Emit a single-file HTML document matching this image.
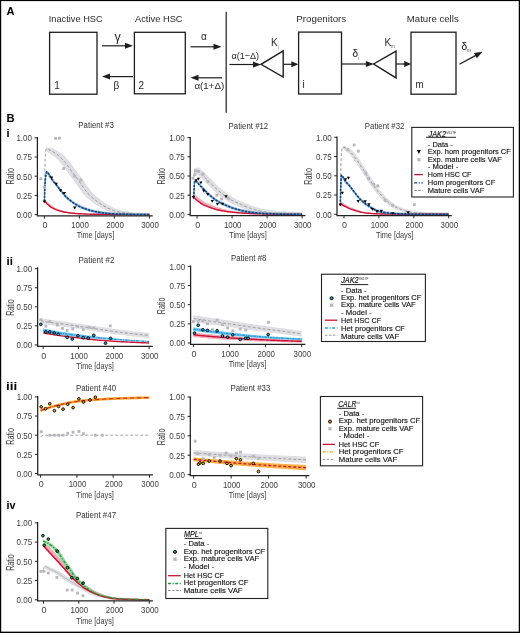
<!DOCTYPE html>
<html><head><meta charset="utf-8"><style>
html,body{margin:0;padding:0;background:#fff;}
body{width:520px;height:633px;overflow:hidden;}
svg{display:block;font-family:"Liberation Sans", sans-serif;will-change:transform;}
</style></head><body>
<svg width="520" height="633" viewBox="0 0 520 633">
<rect width="520" height="633" fill="#fff"/>
<text x="6.40" y="14.70" font-size="11.2" fill="#000" font-weight="bold">A</text>
<text x="48.80" y="22.00" font-size="9.5" fill="#2a2a2a" textLength="53.80" lengthAdjust="spacingAndGlyphs">Inactive HSC</text>
<text x="135.00" y="21.90" font-size="9.5" fill="#2a2a2a" textLength="47.60" lengthAdjust="spacingAndGlyphs">Active HSC</text>
<text x="296.30" y="21.70" font-size="9.5" fill="#2a2a2a" textLength="49.90" lengthAdjust="spacingAndGlyphs">Progenitors</text>
<text x="406.80" y="21.70" font-size="9.5" fill="#2a2a2a" textLength="51.90" lengthAdjust="spacingAndGlyphs">Mature cells</text>
<rect x="49.60" y="32.30" width="47.40" height="61.90" fill="none" stroke="#1e1e1e" stroke-width="1.3"/>
<rect x="134.40" y="32.30" width="50.90" height="61.50" fill="none" stroke="#1e1e1e" stroke-width="1.3"/>
<rect x="298.60" y="32.10" width="42.90" height="61.90" fill="none" stroke="#1e1e1e" stroke-width="1.3"/>
<rect x="411.00" y="32.20" width="45.00" height="62.00" fill="none" stroke="#1e1e1e" stroke-width="1.3"/>
<text x="54.20" y="89.40" font-size="10" fill="#2a2a2a">1</text>
<text x="138.60" y="89.40" font-size="10" fill="#2a2a2a">2</text>
<text x="302.60" y="88.40" font-size="10" fill="#2a2a2a">i</text>
<text x="415.40" y="88.00" font-size="10" fill="#2a2a2a" textLength="8.20" lengthAdjust="spacingAndGlyphs">m</text>
<path d="M102.00,45.80L126.00,45.80" stroke="#1e1e1e" stroke-width="1.2"/>
<path d="M133.00,45.80L125.00,48.80L125.00,42.80Z" fill="#1e1e1e"/>
<path d="M133.00,76.60L109.00,76.60" stroke="#1e1e1e" stroke-width="1.2"/>
<path d="M102.00,76.60L110.00,73.60L110.00,79.60Z" fill="#1e1e1e"/>
<path d="M190.50,46.80L214.50,46.80" stroke="#1e1e1e" stroke-width="1.2"/>
<path d="M221.50,46.80L213.50,49.80L213.50,43.80Z" fill="#1e1e1e"/>
<path d="M222.00,77.80L197.50,77.80" stroke="#1e1e1e" stroke-width="1.2"/>
<path d="M190.50,77.80L198.50,74.80L198.50,80.80Z" fill="#1e1e1e"/>
<path d="M229.40,64.50L254.00,64.50" stroke="#1e1e1e" stroke-width="1.2"/>
<path d="M261.00,64.50L253.00,67.50L253.00,61.50Z" fill="#1e1e1e"/>
<path d="M283.20,64.30L292.40,64.30" stroke="#1e1e1e" stroke-width="1.2"/>
<path d="M298.40,64.30L291.40,67.30L291.40,61.30Z" fill="#1e1e1e"/>
<path d="M341.50,64.00L366.80,64.00" stroke="#1e1e1e" stroke-width="1.2"/>
<path d="M373.80,64.00L365.80,67.00L365.80,61.00Z" fill="#1e1e1e"/>
<path d="M396.00,64.00L405.20,64.00" stroke="#1e1e1e" stroke-width="1.2"/>
<path d="M411.20,64.00L404.20,67.00L404.20,61.00Z" fill="#1e1e1e"/>
<path d="M459.40,64.20L476.33,55.11" stroke="#1e1e1e" stroke-width="1.2"/>
<path d="M482.50,51.80L476.87,58.23L474.03,52.94Z" fill="#1e1e1e"/>
<path d="M226.2,11.8V112.8" stroke="#1e1e1e" stroke-width="1.2"/>
<path d="M283.2,50.8L261.0,64.3L283.2,77.0Z" fill="none" stroke="#1e1e1e" stroke-width="1.4" stroke-linejoin="miter"/>
<path d="M396.0,51.2L373.6,64.0L396.0,77.9Z" fill="none" stroke="#1e1e1e" stroke-width="1.4" stroke-linejoin="miter"/>
<text x="114.60" y="40.80" font-size="12.5" fill="#2a2a2a">γ</text>
<text x="113.40" y="89.00" font-size="10" fill="#2a2a2a">β</text>
<text x="201.00" y="40.40" font-size="10" fill="#2a2a2a">α</text>
<text x="194.40" y="89.00" font-size="9.5" fill="#2a2a2a" textLength="29.80" lengthAdjust="spacingAndGlyphs">α(1+Δ)</text>
<text x="231.60" y="58.80" font-size="9.5" fill="#2a2a2a" textLength="27.50" lengthAdjust="spacingAndGlyphs">α(1−Δ)</text>
<text x="271.1" y="46.0" font-size="10" fill="#2a2a2a">K<tspan font-size="4.6" dy="3.4" fill="#777">i</tspan></text>
<text x="384.4" y="46.2" font-size="10" fill="#2a2a2a">K<tspan font-size="4.6" dy="2.2" fill="#555">m</tspan></text>
<text x="352.4" y="57.2" font-size="10" fill="#222" stroke="#222" stroke-width="0.1">δ<tspan font-size="4.6" dy="2.6" stroke-width="0" fill="#777">i</tspan></text>
<text x="461.4" y="49.8" font-size="10" fill="#222" stroke="#222" stroke-width="0.1">δ<tspan font-size="4.6" dy="2.0" stroke-width="0" fill="#444">m</tspan></text>
<text x="6.60" y="122.10" font-size="11.2" fill="#000" font-weight="bold">B</text>
<text x="6.40" y="136.60" font-size="11" fill="#000" font-weight="bold">i</text>
<text x="6.60" y="264.60" font-size="11" fill="#000" font-weight="bold" textLength="6.40" lengthAdjust="spacingAndGlyphs">ii</text>
<text x="6.00" y="389.60" font-size="11" fill="#000" font-weight="bold" textLength="11.20" lengthAdjust="spacingAndGlyphs">iii</text>
<text x="6.60" y="508.80" font-size="11" fill="#000" font-weight="bold" textLength="9.00" lengthAdjust="spacingAndGlyphs">iv</text>
<path d="M46.3,147.5L47.2,147.5L48.0,147.5L48.9,147.5L49.8,147.5L50.6,147.6L51.5,147.9L52.3,148.2L53.2,148.6L54.1,149.0L54.9,149.4L55.8,149.8L56.6,150.3L57.5,150.8L58.4,151.3L59.2,151.9L60.1,152.5L60.9,153.1L61.8,153.7L62.6,154.4L63.5,155.2L64.4,156.0L65.2,156.8L66.1,157.7L66.9,158.7L67.8,159.6L68.7,160.6L69.5,161.6L70.4,162.7L71.2,163.8L72.1,165.0L73.0,166.2L73.8,167.5L74.7,168.7L75.5,169.9L76.4,171.1L77.2,172.2L78.1,173.4L79.0,174.5L79.8,175.6L80.7,176.7L81.5,177.8L82.4,179.0L83.3,180.1L84.1,181.3L85.0,182.6L85.8,183.9L86.7,185.2L87.6,186.5L88.4,187.7L89.3,188.8L90.1,189.9L91.0,191.0L91.8,192.0L92.7,192.9L93.6,193.8L94.4,194.7L95.3,195.4L96.1,196.2L97.0,196.9L97.9,197.6L98.7,198.3L99.6,199.0L100.4,199.7L101.3,200.4L102.2,201.0L103.0,201.6L103.9,202.2L104.7,202.8L105.6,203.4L106.5,203.9L107.3,204.4L108.2,204.9L109.0,205.4L109.9,205.9L110.7,206.4L111.6,206.8L112.5,207.3L113.3,207.7L114.2,208.1L115.0,208.4L115.9,208.8L116.8,209.1L117.6,209.4L118.5,209.6L119.3,209.9L120.2,210.1L121.1,210.3L121.9,210.5L122.8,210.7L123.6,210.8L124.5,211.0L125.3,211.1L126.2,211.3L127.1,211.4L127.9,211.5L128.8,211.7L129.6,211.8L130.5,211.9L131.4,212.0L132.2,212.1L133.1,212.2L133.9,212.3L134.8,212.3L135.7,212.4L136.5,212.5L137.4,212.5L138.2,212.6L139.1,212.7L140.0,212.7L140.8,212.8L141.7,212.8L142.5,212.8L143.4,212.9L144.2,212.9L145.1,213.0L146.0,213.0L146.8,213.1L147.7,213.1L148.5,213.1L149.4,213.1L149.4,214.6L148.5,214.6L147.7,214.6L146.8,214.6L146.0,214.6L145.1,214.6L144.2,214.6L143.4,214.6L142.5,214.6L141.7,214.6L140.8,214.6L140.0,214.6L139.1,214.6L138.2,214.6L137.4,214.6L136.5,214.6L135.7,214.6L134.8,214.6L133.9,214.6L133.1,214.6L132.2,214.6L131.4,214.6L130.5,214.6L129.6,214.6L128.8,214.6L127.9,214.6L127.1,214.6L126.2,214.6L125.3,214.6L124.5,214.6L123.6,214.5L122.8,214.4L121.9,214.3L121.1,214.2L120.2,214.0L119.3,213.9L118.5,213.8L117.6,213.7L116.8,213.5L115.9,213.3L115.0,213.2L114.2,213.0L113.3,212.8L112.5,212.6L111.6,212.4L110.7,212.2L109.9,211.9L109.0,211.7L108.2,211.4L107.3,211.0L106.5,210.7L105.6,210.3L104.7,209.9L103.9,209.5L103.0,209.0L102.2,208.5L101.3,208.0L100.4,207.5L99.6,207.0L98.7,206.5L97.9,206.0L97.0,205.5L96.1,204.9L95.3,204.3L94.4,203.7L93.6,203.1L92.7,202.4L91.8,201.7L91.0,201.0L90.1,200.3L89.3,199.6L88.4,198.9L87.6,198.2L86.7,197.4L85.8,196.6L85.0,195.7L84.1,194.8L83.3,193.8L82.4,192.8L81.5,191.7L80.7,190.6L79.8,189.4L79.0,188.1L78.1,186.8L77.2,185.5L76.4,184.3L75.5,183.0L74.7,181.8L73.8,180.7L73.0,179.6L72.1,178.4L71.2,177.3L70.4,176.2L69.5,175.1L68.7,174.0L67.8,172.8L66.9,171.6L66.1,170.4L65.2,169.1L64.4,167.9L63.5,166.7L62.6,165.6L61.8,164.5L60.9,163.5L60.1,162.5L59.2,161.5L58.4,160.5L57.5,159.6L56.6,158.7L55.8,157.9L54.9,157.1L54.1,156.4L53.2,155.8L52.3,155.1L51.5,154.5L50.6,154.0L49.8,153.4L48.9,152.9L48.0,152.4L47.2,152.0L46.3,151.6Z" fill="#dfdfe3" stroke="none"/>
<path d="M44.4,198.5L45.6,199.8L46.7,201.1L47.9,202.2L49.0,203.3L50.0,204.3L51.1,205.1L52.4,206.0L53.6,206.8L54.9,207.5L56.0,208.0L57.1,208.5L58.1,208.9L59.2,209.3L60.4,209.7L61.7,210.1L62.9,210.5L64.2,210.9L65.4,211.2L66.5,211.5L67.5,211.7L68.6,211.9L69.6,212.1L70.7,212.3L71.8,212.5L72.9,212.7L74.0,212.8L75.0,213.0L76.1,213.2L77.2,213.3L78.3,213.4L79.4,213.4L80.5,213.5L81.6,213.6L82.7,213.6L83.8,213.7L84.9,213.7L86.0,213.7L87.1,213.8L88.2,213.8L89.2,213.8L90.3,213.9L91.4,213.9L92.5,213.9L93.6,213.9L94.7,214.0L95.8,214.0L96.9,214.0L98.0,214.0L99.0,214.0L100.1,214.0L101.2,214.0L102.2,214.1L103.3,214.1L104.4,214.1L105.4,214.1L106.5,214.1L107.6,214.1L108.6,214.1L109.7,214.1L110.7,214.1L111.8,214.2L112.9,214.2L113.9,214.2L115.0,214.2L116.1,214.2L117.1,214.2L118.2,214.2L119.3,214.2L120.3,214.2L121.4,214.2L122.5,214.2L123.6,214.2L124.6,214.2L125.7,214.2L126.8,214.2L127.9,214.2L128.9,214.2L130.0,214.3L131.1,214.3L132.2,214.3L133.2,214.3L134.3,214.3L135.4,214.3L136.5,214.3L137.6,214.3L138.6,214.3L139.7,214.3L140.8,214.3L141.9,214.3L142.9,214.3L144.0,214.3L145.1,214.3L146.2,214.3L147.2,214.3L148.3,214.3L149.4,214.3L149.4,214.6L148.3,214.6L147.2,214.6L146.2,214.6L145.1,214.6L144.0,214.6L142.9,214.6L141.9,214.6L140.8,214.6L139.7,214.6L138.6,214.6L137.6,214.6L136.5,214.6L135.4,214.6L134.3,214.6L133.2,214.6L132.2,214.6L131.1,214.6L130.0,214.6L128.9,214.6L127.9,214.6L126.8,214.6L125.7,214.6L124.6,214.6L123.6,214.6L122.5,214.6L121.4,214.6L120.3,214.6L119.3,214.6L118.2,214.6L117.1,214.6L116.1,214.6L115.0,214.6L113.9,214.6L112.9,214.6L111.8,214.6L110.7,214.6L109.7,214.6L108.6,214.6L107.6,214.6L106.5,214.6L105.4,214.6L104.4,214.6L103.3,214.6L102.2,214.6L101.2,214.6L100.1,214.6L99.0,214.6L98.0,214.6L96.9,214.6L95.8,214.6L94.7,214.6L93.6,214.6L92.5,214.6L91.4,214.6L90.3,214.5L89.2,214.5L88.2,214.5L87.1,214.5L86.0,214.4L84.9,214.4L83.8,214.4L82.7,214.3L81.6,214.3L80.5,214.3L79.4,214.2L78.3,214.2L77.2,214.1L76.1,214.0L75.0,213.9L74.0,213.8L72.9,213.7L71.8,213.6L70.7,213.4L69.6,213.3L68.6,213.2L67.5,213.0L66.5,212.9L65.4,212.7L64.2,212.4L62.9,212.2L61.7,211.9L60.4,211.6L59.2,211.2L58.1,210.9L57.1,210.5L56.0,210.1L54.9,209.7L53.6,209.1L52.4,208.4L51.1,207.6L50.0,206.8L49.0,205.9L47.9,204.9L46.7,203.8L45.6,202.7L44.4,201.5Z" fill="#ee8fa2" fill-opacity="0.75" stroke="none"/>
<path d="M46.6,169.9L47.9,171.7L49.1,173.5L50.4,175.3L51.6,177.0L52.8,178.5L53.9,180.0L55.1,181.5L56.2,182.9L57.4,184.4L58.5,185.8L59.6,187.3L60.8,188.7L61.9,190.2L63.1,191.7L64.2,193.1L65.4,194.4L66.5,195.5L67.5,196.5L68.5,197.4L69.6,198.3L70.7,199.1L71.7,199.9L72.8,200.7L73.8,201.5L74.8,202.2L76.0,202.9L77.1,203.6L78.3,204.2L79.4,204.8L80.6,205.3L81.7,205.8L82.9,206.3L84.0,206.8L85.2,207.2L86.3,207.5L87.3,207.9L88.4,208.2L89.5,208.6L90.5,208.9L91.6,209.2L92.7,209.5L93.7,209.7L94.8,210.0L95.9,210.2L97.0,210.4L98.0,210.6L99.1,210.8L100.2,210.9L101.3,211.1L102.3,211.2L103.4,211.4L104.5,211.5L105.6,211.6L106.7,211.8L107.8,211.9L108.9,212.0L110.0,212.1L111.1,212.2L112.2,212.2L113.3,212.3L114.4,212.4L115.5,212.4L116.6,212.5L117.6,212.5L118.7,212.6L119.8,212.6L120.9,212.6L121.9,212.7L123.0,212.7L124.1,212.7L125.2,212.8L126.2,212.8L127.3,212.8L128.4,212.8L129.5,212.8L130.5,212.9L131.6,212.9L132.6,212.9L133.7,212.9L134.7,212.9L135.8,213.0L136.8,213.0L137.8,213.0L138.9,213.0L140.0,213.0L141.0,213.0L142.1,213.0L143.1,213.0L144.2,213.0L145.2,213.1L146.2,213.1L147.3,213.1L148.3,213.1L149.4,213.1L149.4,214.6L148.3,214.6L147.3,214.6L146.2,214.6L145.2,214.6L144.2,214.6L143.1,214.6L142.1,214.6L141.0,214.6L140.0,214.6L138.9,214.6L137.8,214.6L136.8,214.6L135.8,214.6L134.7,214.6L133.7,214.6L132.6,214.6L131.6,214.6L130.5,214.6L129.5,214.6L128.4,214.6L127.3,214.6L126.2,214.6L125.2,214.6L124.1,214.6L123.0,214.6L121.9,214.6L120.9,214.6L119.8,214.6L118.7,214.6L117.6,214.6L116.6,214.6L115.5,214.6L114.4,214.6L113.3,214.6L112.2,214.6L111.1,214.6L110.0,214.6L108.9,214.6L107.8,214.6L106.7,214.6L105.6,214.6L104.5,214.6L103.4,214.6L102.3,214.5L101.3,214.4L100.2,214.2L99.1,214.0L98.0,213.8L97.0,213.5L95.9,213.3L94.8,213.1L93.7,212.9L92.7,212.6L91.6,212.3L90.5,212.0L89.5,211.7L88.4,211.4L87.3,211.1L86.3,210.7L85.2,210.4L84.0,209.9L82.9,209.5L81.7,209.0L80.6,208.5L79.4,208.0L78.3,207.4L77.1,206.8L76.0,206.2L74.8,205.5L73.8,204.8L72.8,204.1L71.7,203.3L70.7,202.5L69.6,201.6L68.5,200.8L67.5,199.9L66.5,198.9L65.4,197.9L64.2,196.6L63.1,195.2L61.9,193.7L60.8,192.3L59.6,190.9L58.5,189.4L57.4,188.0L56.2,186.6L55.1,185.1L53.9,183.7L52.8,182.3L51.6,180.8L50.4,179.1L49.1,177.4L47.9,175.6L46.6,173.8Z" fill="#8fb5dc" fill-opacity="0.85" stroke="none"/>
<path d="M44.6,191.6L44.9,167.8L45.3,154.7L45.8,150.3L46.3,148.7L47.6,148.9L48.9,149.5L50.1,150.2L51.4,150.9L52.6,151.5L53.7,152.2L54.9,152.9L56.1,153.7L57.2,154.6L58.4,155.5L59.6,156.5L60.7,157.6L61.9,158.8L63.1,160.1L64.2,161.4L65.4,162.8L66.6,164.2L67.7,165.8L68.9,167.4L70.1,169.1L71.2,170.8L72.4,172.4L73.6,173.9L74.7,175.4L75.9,176.9L77.1,178.4L78.2,180.0L79.4,181.6L80.6,183.2L81.7,185.0L82.9,186.8L84.0,188.5L85.2,190.0L86.4,191.5L87.6,192.9L88.7,194.2L89.9,195.4L91.1,196.6L92.3,197.6L93.6,198.6L94.8,199.6L95.9,200.5L97.0,201.4L98.2,202.3L99.3,203.1L100.4,203.8L101.8,204.7L103.1,205.5L104.5,206.3L105.7,207.0L106.8,207.6L108.0,208.3L109.2,208.8L110.4,209.4L111.6,209.9L112.9,210.4L114.1,210.8L115.2,211.0L116.2,211.3L117.3,211.6L118.4,211.8L119.5,212.0L120.6,212.2L121.7,212.4L122.7,212.6L123.8,212.8L124.9,212.9L126.0,213.0L127.0,213.2L128.1,213.3L129.1,213.4L130.2,213.5L131.2,213.6L132.2,213.7L133.3,213.8L134.3,213.8L135.4,213.9L136.5,214.0L137.6,214.0L138.6,214.1L139.7,214.1L140.8,214.2L141.9,214.2L142.9,214.3L144.0,214.3L145.1,214.4L146.2,214.4L147.2,214.4L148.3,214.4L149.4,214.4" fill="none" stroke="#929292" stroke-width="0.9" stroke-dasharray="3 2" stroke-linejoin="round"/>
<path d="M44.4,201.0L45.6,202.2L46.7,203.4L47.9,204.5L49.0,205.4L50.0,206.4L51.1,207.2L52.4,207.9L53.6,208.6L54.9,209.2L56.0,209.7L57.1,210.1L58.1,210.4L59.2,210.8L60.4,211.1L61.7,211.4L62.9,211.7L64.2,212.0L65.4,212.2L66.5,212.4L67.5,212.6L68.6,212.7L69.6,212.9L70.7,213.0L71.8,213.1L72.9,213.2L74.0,213.3L75.0,213.4L76.1,213.5L77.2,213.6L78.3,213.7L79.4,213.8L80.5,213.8L81.6,213.9L82.7,213.9L83.8,213.9L84.9,214.0L86.0,214.0L87.1,214.1L88.2,214.1L89.2,214.1L90.3,214.2L91.4,214.2L92.5,214.2L93.6,214.2L94.7,214.3L95.8,214.3L96.9,214.3L98.0,214.3L99.0,214.3L100.1,214.3L101.2,214.4L102.2,214.4L103.3,214.4L104.4,214.4L105.4,214.4L106.5,214.4L107.6,214.4L108.6,214.4L109.7,214.4L110.7,214.5L111.8,214.5L112.9,214.5L113.9,214.5L115.0,214.5L116.1,214.5L117.1,214.5L118.2,214.5L119.3,214.5L120.3,214.5L121.4,214.5L122.5,214.5L123.6,214.5L124.6,214.5L125.7,214.5L126.8,214.5L127.9,214.6L128.9,214.6L130.0,214.6L131.1,214.6L132.2,214.6L133.2,214.6L134.3,214.6L135.4,214.6L136.5,214.6L137.6,214.6L138.6,214.6L139.7,214.6L140.8,214.6L141.9,214.6L142.9,214.6L144.0,214.6L145.1,214.6L146.2,214.6L147.2,214.6L148.3,214.6L149.4,214.6" fill="none" stroke="#cf1032" stroke-width="1.4" stroke-linejoin="round"/>
<path d="M44.4,201.5L44.8,188.4L45.3,180.0L45.9,174.2L46.6,171.8L47.9,172.6L49.1,174.5L50.4,176.8L51.6,178.9L52.8,180.4L53.9,181.9L55.1,183.3L56.2,184.7L57.4,186.2L58.5,187.6L59.6,189.1L60.8,190.5L61.9,191.9L63.1,193.4L64.2,194.9L65.4,196.2L66.5,197.2L67.5,198.2L68.5,199.1L69.6,199.9L70.7,200.8L71.7,201.6L72.8,202.4L73.8,203.2L74.8,203.8L76.0,204.5L77.1,205.2L78.3,205.8L79.4,206.4L80.6,206.9L81.7,207.4L82.9,207.9L84.0,208.3L85.2,208.8L86.3,209.1L87.3,209.5L88.4,209.8L89.5,210.2L90.5,210.5L91.6,210.8L92.7,211.0L93.7,211.3L94.8,211.5L95.9,211.7L97.0,211.9L98.0,212.1L99.1,212.3L100.2,212.5L101.3,212.7L102.3,212.8L103.4,212.9L104.5,213.1L105.6,213.2L106.7,213.3L107.8,213.4L108.9,213.5L110.0,213.6L111.1,213.7L112.2,213.8L113.3,213.8L114.4,213.9L115.5,214.0L116.6,214.0L117.6,214.1L118.7,214.1L119.8,214.1L120.9,214.2L121.9,214.2L123.0,214.2L124.1,214.3L125.2,214.3L126.2,214.3L127.3,214.3L128.4,214.4L129.5,214.4L130.5,214.4L131.6,214.4L132.6,214.4L133.7,214.5L134.7,214.5L135.8,214.5L136.8,214.5L137.8,214.5L138.9,214.5L140.0,214.5L141.0,214.6L142.1,214.6L143.1,214.6L144.2,214.6L145.2,214.6L146.2,214.6L147.3,214.6L148.3,214.6L149.4,214.6" fill="none" stroke="#4f83bb" stroke-width="1.0" stroke-linejoin="round"/>
<path d="M44.4,201.5L44.8,188.4L45.3,180.0L45.9,174.2L46.6,171.8L47.9,172.6L49.1,174.5L50.4,176.8L51.6,178.9L52.8,180.4L53.9,181.9L55.1,183.3L56.2,184.7L57.4,186.2L58.5,187.6L59.6,189.1L60.8,190.5L61.9,191.9L63.1,193.4L64.2,194.9L65.4,196.2L66.5,197.2L67.5,198.2L68.5,199.1L69.6,199.9L70.7,200.8L71.7,201.6L72.8,202.4L73.8,203.2L74.8,203.8L76.0,204.5L77.1,205.2L78.3,205.8L79.4,206.4L80.6,206.9L81.7,207.4L82.9,207.9L84.0,208.3L85.2,208.8L86.3,209.1L87.3,209.5L88.4,209.8L89.5,210.2L90.5,210.5L91.6,210.8L92.7,211.0L93.7,211.3L94.8,211.5L95.9,211.7L97.0,211.9L98.0,212.1L99.1,212.3L100.2,212.5L101.3,212.7L102.3,212.8L103.4,212.9L104.5,213.1L105.6,213.2L106.7,213.3L107.8,213.4L108.9,213.5L110.0,213.6L111.1,213.7L112.2,213.8L113.3,213.8L114.4,213.9L115.5,214.0L116.6,214.0L117.6,214.1L118.7,214.1L119.8,214.1L120.9,214.2L121.9,214.2L123.0,214.2L124.1,214.3L125.2,214.3L126.2,214.3L127.3,214.3L128.4,214.4L129.5,214.4L130.5,214.4L131.6,214.4L132.6,214.4L133.7,214.5L134.7,214.5L135.8,214.5L136.8,214.5L137.8,214.5L138.9,214.5L140.0,214.5L141.0,214.6L142.1,214.6L143.1,214.6L144.2,214.6L145.2,214.6L146.2,214.6L147.3,214.6L148.3,214.6L149.4,214.6" fill="none" stroke="#0a4480" stroke-width="1.6" stroke-dasharray="2.2 1.3" stroke-linejoin="round"/>
<rect x="39.50" y="177.33" width="2.8" height="2.8" fill="#b6b6bc"/>
<rect x="43.00" y="185.78" width="2.8" height="2.8" fill="#b6b6bc"/>
<rect x="54.20" y="136.94" width="2.8" height="2.8" fill="#b6b6bc"/>
<rect x="58.09" y="136.71" width="2.8" height="2.8" fill="#b6b6bc"/>
<rect x="62.22" y="167.12" width="2.8" height="2.8" fill="#b6b6bc"/>
<rect x="73.10" y="174.80" width="2.8" height="2.8" fill="#b6b6bc"/>
<rect x="79.50" y="178.64" width="2.8" height="2.8" fill="#b6b6bc"/>
<path d="M42.75,200.53L46.05,200.53L44.40,203.33Z" fill="#000"/>
<path d="M49.96,176.56L53.26,176.56L51.61,179.37Z" fill="#000"/>
<path d="M54.55,182.78L57.84,182.78L56.20,185.59Z" fill="#000"/>
<path d="M58.85,189.31L62.15,189.31L60.50,192.12Z" fill="#000"/>
<path d="M62.66,192.00L65.97,192.00L64.31,194.81Z" fill="#000"/>
<path d="M73.06,206.59L76.36,206.59L74.71,209.40Z" fill="#000"/>
<path d="M37.40,137.00V215.80H152.70" fill="none" stroke="#222" stroke-width="1.25"/>
<path d="M34.60,214.60H37.4" stroke="#222" stroke-width="1"/>
<text x="32.00" y="217.90" font-size="9" fill="#3d3d3d" text-anchor="end" textLength="15.60" lengthAdjust="spacingAndGlyphs">0.00</text>
<path d="M34.60,195.40H37.4" stroke="#222" stroke-width="1"/>
<text x="32.00" y="198.70" font-size="9" fill="#3d3d3d" text-anchor="end" textLength="15.60" lengthAdjust="spacingAndGlyphs">0.25</text>
<path d="M34.60,176.20H37.4" stroke="#222" stroke-width="1"/>
<text x="32.00" y="179.50" font-size="9" fill="#3d3d3d" text-anchor="end" textLength="15.60" lengthAdjust="spacingAndGlyphs">0.50</text>
<path d="M34.60,157.00H37.4" stroke="#222" stroke-width="1"/>
<text x="32.00" y="160.30" font-size="9" fill="#3d3d3d" text-anchor="end" textLength="15.60" lengthAdjust="spacingAndGlyphs">0.75</text>
<path d="M34.60,137.80H37.4" stroke="#222" stroke-width="1"/>
<text x="32.00" y="141.10" font-size="9" fill="#3d3d3d" text-anchor="end" textLength="15.60" lengthAdjust="spacingAndGlyphs">1.00</text>
<path d="M44.40,215.80V218.60" stroke="#222" stroke-width="1"/>
<text x="45.00" y="228.20" font-size="9" fill="#3d3d3d" text-anchor="middle" textLength="5.00" lengthAdjust="spacingAndGlyphs">0</text>
<path d="M79.40,215.80V218.60" stroke="#222" stroke-width="1"/>
<text x="80.00" y="228.20" font-size="9" fill="#3d3d3d" text-anchor="middle" textLength="17.60" lengthAdjust="spacingAndGlyphs">1000</text>
<path d="M114.40,215.80V218.60" stroke="#222" stroke-width="1"/>
<text x="115.00" y="228.20" font-size="9" fill="#3d3d3d" text-anchor="middle" textLength="17.60" lengthAdjust="spacingAndGlyphs">2000</text>
<path d="M149.40,215.80V218.60" stroke="#222" stroke-width="1"/>
<text x="150.00" y="228.20" font-size="9" fill="#3d3d3d" text-anchor="middle" textLength="17.60" lengthAdjust="spacingAndGlyphs">3000</text>
<text x="95.45" y="238.40" font-size="9.8" fill="#3d3d3d" text-anchor="middle" textLength="37.50" lengthAdjust="spacingAndGlyphs">Time [days]</text>
<text x="0" y="0" font-size="10.4" fill="#3d3d3d" text-anchor="middle" textLength="16.5" lengthAdjust="spacingAndGlyphs" transform="translate(14.10,176.20) rotate(-90)">Ratio</text>
<text x="96.10" y="128.10" font-size="8.2" fill="#333" text-anchor="middle" textLength="35.50" lengthAdjust="spacingAndGlyphs">Patient #3</text>
<path d="M194.7,168.3L195.5,168.3L196.4,168.3L197.3,167.8L198.2,167.3L199.1,167.8L200.0,168.6L200.9,169.5L201.8,170.3L202.7,171.1L203.6,171.9L204.5,172.7L205.4,173.5L206.3,174.4L207.2,175.2L208.1,176.1L209.0,177.0L209.9,178.0L210.8,178.9L211.7,179.8L212.6,180.7L213.5,181.6L214.3,182.5L215.2,183.4L216.1,184.3L217.0,185.2L217.9,186.0L218.8,186.9L219.7,187.7L220.6,188.5L221.5,189.2L222.4,190.0L223.3,190.7L224.2,191.3L225.1,192.0L226.0,192.7L226.9,193.3L227.8,194.0L228.7,194.6L229.6,195.2L230.5,195.8L231.4,196.4L232.3,197.0L233.2,197.5L234.0,198.1L234.9,198.5L235.8,199.0L236.7,199.4L237.6,199.8L238.5,200.1L239.4,200.5L240.3,200.9L241.2,201.2L242.1,201.6L243.0,202.1L243.9,202.5L244.8,202.9L245.7,203.3L246.6,203.8L247.5,204.1L248.4,204.5L249.3,204.8L250.2,205.1L251.1,205.5L252.0,205.8L252.9,206.1L253.7,206.4L254.6,206.7L255.5,206.9L256.4,207.2L257.3,207.5L258.2,207.7L259.1,207.9L260.0,208.2L260.9,208.4L261.8,208.6L262.7,208.7L263.6,208.9L264.5,209.1L265.4,209.2L266.3,209.4L267.2,209.6L268.1,209.7L269.0,209.8L269.9,210.0L270.8,210.1L271.7,210.2L272.6,210.3L273.4,210.4L274.3,210.5L275.2,210.6L276.1,210.7L277.0,210.8L277.9,210.9L278.8,210.9L279.7,211.0L280.6,211.0L281.5,211.1L282.4,211.2L283.3,211.2L284.2,211.3L285.1,211.3L286.0,211.4L286.9,211.4L287.8,211.4L288.7,211.5L289.6,211.5L290.5,211.6L291.4,211.6L292.3,211.6L293.1,211.7L294.0,211.7L294.9,211.8L295.8,211.8L296.7,211.8L297.6,211.9L298.5,211.9L299.4,211.9L300.3,212.0L301.2,212.0L302.1,212.0L302.1,214.4L301.2,214.4L300.3,214.4L299.4,214.4L298.5,214.4L297.6,214.4L296.7,214.4L295.8,214.4L294.9,214.4L294.0,214.4L293.1,214.4L292.3,214.4L291.4,214.4L290.5,214.4L289.6,214.4L288.7,214.4L287.8,214.4L286.9,214.4L286.0,214.4L285.1,214.4L284.2,214.4L283.3,214.4L282.4,214.4L281.5,214.4L280.6,214.4L279.7,214.4L278.8,214.4L277.9,214.4L277.0,214.4L276.1,214.4L275.2,214.4L274.3,214.4L273.4,214.4L272.6,214.4L271.7,214.4L270.8,214.4L269.9,214.4L269.0,214.4L268.1,214.4L267.2,214.4L266.3,214.4L265.4,214.4L264.5,214.4L263.6,214.3L262.7,214.1L261.8,214.0L260.9,213.8L260.0,213.6L259.1,213.5L258.2,213.3L257.3,213.1L256.4,212.9L255.5,212.7L254.6,212.5L253.7,212.2L252.9,212.0L252.0,211.7L251.1,211.5L250.2,211.2L249.3,210.9L248.4,210.6L247.5,210.3L246.6,210.0L245.7,209.6L244.8,209.3L243.9,209.0L243.0,208.6L242.1,208.2L241.2,207.8L240.3,207.4L239.4,207.0L238.5,206.5L237.6,206.1L236.7,205.7L235.8,205.4L234.9,205.0L234.0,204.6L233.2,204.3L232.3,203.9L231.4,203.5L230.5,203.0L229.6,202.5L228.7,202.0L227.8,201.4L226.9,200.8L226.0,200.2L225.1,199.6L224.2,199.0L223.3,198.4L222.4,197.7L221.5,197.1L220.6,196.4L219.7,195.7L218.8,195.1L217.9,194.3L217.0,193.6L216.1,192.9L215.2,192.1L214.3,191.2L213.5,190.4L212.6,189.5L211.7,188.6L210.8,187.8L209.9,186.9L209.0,186.0L208.1,185.0L207.2,184.1L206.3,183.2L205.4,182.3L204.5,181.4L203.6,180.4L202.7,179.6L201.8,178.7L200.9,177.9L200.0,177.0L199.1,176.3L198.2,175.5L197.3,174.7L196.4,173.9L195.5,173.1L194.7,172.2Z" fill="#dfdfe3" stroke="none"/>
<path d="M193.7,193.2L194.9,194.3L196.1,195.4L197.2,196.5L198.4,197.4L199.6,198.4L200.7,199.3L201.8,200.1L203.0,200.9L204.1,201.6L205.3,202.3L206.6,202.9L207.8,203.4L209.1,203.9L210.3,204.5L211.4,205.0L212.6,205.5L213.8,206.0L215.0,206.4L216.2,206.8L217.4,207.2L218.6,207.5L219.6,207.8L220.7,208.1L221.8,208.4L222.8,208.7L223.9,209.0L224.9,209.2L226.0,209.5L227.1,209.7L228.1,209.9L229.3,210.2L230.4,210.4L231.6,210.6L232.7,210.8L233.8,211.0L235.0,211.2L236.1,211.4L237.2,211.6L238.4,211.8L239.5,211.9L240.7,212.0L241.8,212.2L242.9,212.3L244.0,212.4L245.2,212.6L246.3,212.7L247.4,212.8L248.6,212.9L249.7,213.0L250.8,213.1L252.0,213.1L253.1,213.2L254.2,213.2L255.2,213.3L256.2,213.3L257.3,213.3L258.4,213.4L259.4,213.4L260.4,213.4L261.5,213.5L262.6,213.5L263.6,213.5L264.6,213.5L265.7,213.6L266.8,213.6L267.8,213.6L268.9,213.6L269.9,213.6L270.9,213.7L272.0,213.7L273.1,213.7L274.1,213.7L275.2,213.7L276.3,213.7L277.3,213.7L278.4,213.8L279.5,213.8L280.6,213.8L281.6,213.8L282.7,213.8L283.8,213.8L284.9,213.8L285.9,213.8L287.0,213.9L288.1,213.9L289.2,213.9L290.3,213.9L291.3,213.9L292.4,213.9L293.5,213.9L294.6,213.9L295.6,213.9L296.7,213.9L297.8,213.9L298.9,213.9L299.9,213.9L301.0,213.9L302.1,213.9L302.1,214.4L301.0,214.4L299.9,214.4L298.9,214.4L297.8,214.4L296.7,214.4L295.6,214.4L294.6,214.4L293.5,214.4L292.4,214.4L291.3,214.4L290.3,214.4L289.2,214.4L288.1,214.4L287.0,214.4L285.9,214.4L284.9,214.4L283.8,214.4L282.7,214.4L281.6,214.4L280.6,214.4L279.5,214.4L278.4,214.4L277.3,214.4L276.3,214.4L275.2,214.4L274.1,214.4L273.1,214.4L272.0,214.4L270.9,214.4L269.9,214.4L268.9,214.4L267.8,214.4L266.8,214.4L265.7,214.4L264.6,214.4L263.6,214.4L262.6,214.4L261.5,214.3L260.4,214.3L259.4,214.3L258.4,214.3L257.3,214.3L256.2,214.3L255.2,214.3L254.2,214.3L253.1,214.2L252.0,214.2L250.8,214.2L249.7,214.1L248.6,214.1L247.4,214.0L246.3,214.0L245.2,213.9L244.0,213.8L242.9,213.7L241.8,213.6L240.7,213.6L239.5,213.5L238.4,213.4L237.2,213.3L236.1,213.2L235.0,213.1L233.8,213.0L232.7,212.9L231.6,212.7L230.4,212.6L229.3,212.5L228.1,212.3L227.1,212.2L226.0,212.0L224.9,211.9L223.9,211.7L222.8,211.5L221.8,211.3L220.7,211.1L219.6,210.9L218.6,210.6L217.4,210.4L216.2,210.1L215.0,209.8L213.8,209.4L212.6,209.0L211.4,208.6L210.3,208.2L209.1,207.7L207.8,207.3L206.6,206.8L205.3,206.4L204.1,205.8L203.0,205.2L201.8,204.5L200.7,203.7L199.6,202.9L198.4,202.0L197.2,201.1L196.1,200.2L194.9,199.2L193.7,198.1Z" fill="#ee8fa2" fill-opacity="0.75" stroke="none"/>
<path d="M194.6,179.5L194.8,179.0L195.0,178.7L196.1,179.2L197.3,180.4L198.4,181.8L199.6,183.2L200.8,184.4L201.9,185.6L203.1,186.8L204.3,188.0L205.5,189.3L206.7,190.5L207.9,191.7L209.1,192.9L210.3,193.9L211.4,194.9L212.6,195.9L213.8,196.8L215.0,197.7L216.2,198.6L217.4,199.4L218.6,200.1L219.8,200.8L221.0,201.4L222.2,202.0L223.3,202.5L224.5,203.1L225.7,203.6L226.9,204.1L228.1,204.6L229.3,205.1L230.5,205.6L231.7,206.1L232.9,206.5L234.0,206.9L235.1,207.2L236.2,207.6L237.3,207.9L238.4,208.2L239.5,208.4L240.6,208.7L241.8,209.0L242.9,209.3L244.0,209.5L245.1,209.7L246.2,210.0L247.4,210.2L248.5,210.4L249.6,210.5L250.7,210.7L251.8,210.8L252.8,211.0L253.9,211.1L255.0,211.2L256.1,211.3L257.1,211.4L258.2,211.5L259.3,211.6L260.4,211.7L261.4,211.8L262.5,211.9L263.6,211.9L264.7,212.0L265.8,212.0L266.9,212.1L268.0,212.1L269.1,212.2L270.2,212.2L271.3,212.3L272.4,212.3L273.4,212.4L274.5,212.4L275.6,212.4L276.7,212.4L277.8,212.5L278.9,212.5L280.0,212.5L281.1,212.6L282.1,212.6L283.2,212.6L284.2,212.6L285.3,212.6L286.4,212.7L287.4,212.7L288.4,212.7L289.5,212.7L290.6,212.7L291.6,212.8L292.6,212.8L293.7,212.8L294.8,212.8L295.8,212.8L296.9,212.8L297.9,212.8L298.9,212.8L300.0,212.9L301.1,212.9L302.1,212.9L302.1,214.4L301.1,214.4L300.0,214.4L298.9,214.4L297.9,214.4L296.9,214.4L295.8,214.4L294.8,214.4L293.7,214.4L292.6,214.4L291.6,214.4L290.6,214.4L289.5,214.4L288.4,214.4L287.4,214.4L286.4,214.4L285.3,214.4L284.2,214.4L283.2,214.4L282.1,214.4L281.1,214.4L280.0,214.4L278.9,214.4L277.8,214.4L276.7,214.4L275.6,214.4L274.5,214.4L273.4,214.4L272.4,214.4L271.3,214.4L270.2,214.4L269.1,214.4L268.0,214.4L266.9,214.4L265.8,214.4L264.7,214.4L263.6,214.4L262.5,214.4L261.4,214.4L260.4,214.3L259.3,214.3L258.2,214.3L257.1,214.2L256.1,214.1L255.0,214.1L253.9,214.0L252.8,213.9L251.8,213.8L250.7,213.7L249.6,213.7L248.5,213.5L247.4,213.4L246.2,213.2L245.1,212.9L244.0,212.7L242.9,212.4L241.8,212.2L240.6,211.9L239.5,211.6L238.4,211.3L237.3,211.0L236.2,210.7L235.1,210.4L234.0,210.1L232.9,209.7L231.7,209.3L230.5,208.8L229.3,208.3L228.1,207.8L226.9,207.3L225.7,206.8L224.5,206.3L223.3,205.8L222.2,205.3L221.0,204.7L219.8,204.1L218.6,203.5L217.4,202.7L216.2,201.9L215.0,201.1L213.8,200.2L212.6,199.3L211.4,198.3L210.3,197.4L209.1,196.3L207.9,195.2L206.7,194.0L205.5,192.8L204.3,191.6L203.1,190.4L201.9,189.2L200.8,188.0L199.6,186.8L198.4,185.5L197.3,184.1L196.1,182.9L195.0,182.5L194.8,182.8L194.6,183.2Z" fill="#8fb5dc" fill-opacity="0.85" stroke="none"/>
<path d="M193.7,177.5L194.2,173.1L194.7,170.6L195.1,169.8L195.5,169.5L196.9,170.0L198.2,171.3L199.6,172.5L200.8,173.5L201.9,174.6L203.1,175.7L204.3,176.8L205.5,177.9L206.7,179.2L207.9,180.4L209.1,181.6L210.3,182.8L211.4,184.0L212.6,185.2L213.8,186.4L215.0,187.5L216.2,188.7L217.4,189.8L218.6,190.8L219.8,191.8L221.0,192.8L222.2,193.7L223.3,194.6L224.5,195.5L225.7,196.3L226.9,197.2L228.1,198.0L229.3,198.7L230.5,199.5L231.7,200.2L232.9,200.9L234.0,201.4L235.1,201.9L236.2,202.4L237.3,202.8L238.4,203.3L239.5,203.7L240.6,204.2L241.7,204.8L242.8,205.3L243.9,205.8L245.0,206.3L246.1,206.7L247.2,207.1L248.3,207.5L249.3,207.9L250.4,208.3L251.5,208.6L252.6,209.0L253.6,209.3L254.7,209.6L255.8,209.9L256.9,210.2L257.9,210.5L259.0,210.7L260.1,210.9L261.2,211.2L262.3,211.4L263.3,211.6L264.4,211.7L265.5,211.9L266.6,212.1L267.6,212.3L268.7,212.4L269.8,212.6L270.9,212.7L271.9,212.8L273.0,212.9L274.1,213.0L275.2,213.1L276.3,213.2L277.4,213.3L278.5,213.3L279.6,213.4L280.7,213.5L281.8,213.5L282.9,213.6L283.9,213.7L285.0,213.7L286.1,213.8L287.2,213.8L288.3,213.9L289.4,213.9L290.5,214.0L291.6,214.0L292.6,214.1L293.7,214.1L294.8,214.1L295.8,214.2L296.9,214.2L297.9,214.3L298.9,214.3L300.0,214.3L301.1,214.4L302.1,214.4" fill="none" stroke="#929292" stroke-width="0.9" stroke-dasharray="3 2" stroke-linejoin="round"/>
<path d="M193.7,197.5L194.9,198.5L196.1,199.5L197.2,200.5L198.4,201.4L199.6,202.3L200.7,203.1L201.8,203.9L203.0,204.6L204.1,205.2L205.3,205.7L206.6,206.2L207.8,206.7L209.1,207.1L210.3,207.5L211.4,208.0L212.6,208.4L213.8,208.8L215.0,209.1L216.2,209.5L217.4,209.8L218.6,210.0L219.6,210.2L220.7,210.5L221.8,210.7L222.8,210.9L223.9,211.1L224.9,211.2L226.0,211.4L227.1,211.6L228.1,211.7L229.3,211.9L230.4,212.0L231.6,212.1L232.7,212.2L233.8,212.4L235.0,212.5L236.1,212.6L237.2,212.7L238.4,212.8L239.5,212.9L240.7,212.9L241.8,213.0L242.9,213.1L244.0,213.2L245.2,213.2L246.3,213.3L247.4,213.4L248.6,213.4L249.7,213.5L250.8,213.5L252.0,213.6L253.1,213.6L254.2,213.7L255.2,213.7L256.2,213.7L257.3,213.8L258.4,213.8L259.4,213.8L260.4,213.9L261.5,213.9L262.6,213.9L263.6,214.0L264.6,214.0L265.7,214.0L266.8,214.0L267.8,214.1L268.9,214.1L269.9,214.1L270.9,214.1L272.0,214.1L273.1,214.2L274.1,214.2L275.2,214.2L276.3,214.2L277.3,214.2L278.4,214.2L279.5,214.2L280.6,214.2L281.6,214.3L282.7,214.3L283.8,214.3L284.9,214.3L285.9,214.3L287.0,214.3L288.1,214.3L289.2,214.3L290.3,214.3L291.3,214.4L292.4,214.4L293.5,214.4L294.6,214.4L295.6,214.4L296.7,214.4L297.8,214.4L298.9,214.4L299.9,214.4L301.0,214.4L302.1,214.4" fill="none" stroke="#cf1032" stroke-width="1.4" stroke-linejoin="round"/>
<path d="M193.7,197.5L194.2,186.5L194.6,181.4L194.8,180.8L195.0,180.6L196.1,181.1L197.3,182.2L198.4,183.7L199.6,185.0L200.8,186.2L201.9,187.4L203.1,188.6L204.3,189.8L205.5,191.0L206.7,192.3L207.9,193.5L209.1,194.6L210.3,195.6L211.4,196.6L212.6,197.6L213.8,198.5L215.0,199.4L216.2,200.3L217.4,201.1L218.6,201.8L219.8,202.5L221.0,203.1L222.2,203.6L223.3,204.2L224.5,204.7L225.7,205.2L226.9,205.7L228.1,206.2L229.3,206.7L230.5,207.2L231.7,207.7L232.9,208.1L234.0,208.5L235.1,208.8L236.2,209.1L237.3,209.5L238.4,209.7L239.5,210.0L240.6,210.3L241.8,210.6L242.9,210.8L244.0,211.1L245.1,211.3L246.2,211.5L247.4,211.7L248.5,211.9L249.6,212.1L250.7,212.2L251.8,212.4L252.8,212.5L253.9,212.6L255.0,212.8L256.1,212.9L257.1,213.0L258.2,213.1L259.3,213.2L260.4,213.3L261.4,213.3L262.5,213.4L263.6,213.5L264.7,213.5L265.8,213.6L266.9,213.6L268.0,213.7L269.1,213.7L270.2,213.8L271.3,213.8L272.4,213.9L273.4,213.9L274.5,213.9L275.6,214.0L276.7,214.0L277.8,214.0L278.9,214.0L280.0,214.1L281.1,214.1L282.1,214.1L283.2,214.1L284.2,214.2L285.3,214.2L286.4,214.2L287.4,214.2L288.4,214.2L289.5,214.3L290.6,214.3L291.6,214.3L292.6,214.3L293.7,214.3L294.8,214.3L295.8,214.4L296.9,214.4L297.9,214.4L298.9,214.4L300.0,214.4L301.1,214.4L302.1,214.4" fill="none" stroke="#4f83bb" stroke-width="1.0" stroke-linejoin="round"/>
<path d="M193.7,197.5L194.2,186.5L194.6,181.4L194.8,180.8L195.0,180.6L196.1,181.1L197.3,182.2L198.4,183.7L199.6,185.0L200.8,186.2L201.9,187.4L203.1,188.6L204.3,189.8L205.5,191.0L206.7,192.3L207.9,193.5L209.1,194.6L210.3,195.6L211.4,196.6L212.6,197.6L213.8,198.5L215.0,199.4L216.2,200.3L217.4,201.1L218.6,201.8L219.8,202.5L221.0,203.1L222.2,203.6L223.3,204.2L224.5,204.7L225.7,205.2L226.9,205.7L228.1,206.2L229.3,206.7L230.5,207.2L231.7,207.7L232.9,208.1L234.0,208.5L235.1,208.8L236.2,209.1L237.3,209.5L238.4,209.7L239.5,210.0L240.6,210.3L241.8,210.6L242.9,210.8L244.0,211.1L245.1,211.3L246.2,211.5L247.4,211.7L248.5,211.9L249.6,212.1L250.7,212.2L251.8,212.4L252.8,212.5L253.9,212.6L255.0,212.8L256.1,212.9L257.1,213.0L258.2,213.1L259.3,213.2L260.4,213.3L261.4,213.3L262.5,213.4L263.6,213.5L264.7,213.5L265.8,213.6L266.9,213.6L268.0,213.7L269.1,213.7L270.2,213.8L271.3,213.8L272.4,213.9L273.4,213.9L274.5,213.9L275.6,214.0L276.7,214.0L277.8,214.0L278.9,214.0L280.0,214.1L281.1,214.1L282.1,214.1L283.2,214.1L284.2,214.2L285.3,214.2L286.4,214.2L287.4,214.2L288.4,214.2L289.5,214.3L290.6,214.3L291.6,214.3L292.6,214.3L293.7,214.3L294.8,214.3L295.8,214.4L296.9,214.4L297.9,214.4L298.9,214.4L300.0,214.4L301.1,214.4L302.1,214.4" fill="none" stroke="#0a4480" stroke-width="1.6" stroke-dasharray="2.2 1.3" stroke-linejoin="round"/>
<rect x="191.50" y="176.90" width="2.8" height="2.8" fill="#b6b6bc"/>
<rect x="194.30" y="169.22" width="2.8" height="2.8" fill="#b6b6bc"/>
<rect x="197.17" y="169.99" width="2.8" height="2.8" fill="#b6b6bc"/>
<rect x="201.72" y="172.68" width="2.8" height="2.8" fill="#b6b6bc"/>
<rect x="193.60" y="173.06" width="2.8" height="2.8" fill="#b6b6bc"/>
<rect x="206.30" y="179.98" width="2.8" height="2.8" fill="#b6b6bc"/>
<rect x="215.51" y="193.80" width="2.8" height="2.8" fill="#b6b6bc"/>
<rect x="220.20" y="197.64" width="2.8" height="2.8" fill="#b6b6bc"/>
<rect x="227.20" y="196.87" width="2.8" height="2.8" fill="#b6b6bc"/>
<path d="M191.77,196.10L195.07,196.10L193.42,198.91Z" fill="#000"/>
<path d="M194.47,179.21L197.77,179.21L196.12,182.01Z" fill="#000"/>
<path d="M196.74,177.67L200.04,177.67L198.39,180.47Z" fill="#000"/>
<path d="M199.23,181.51L202.53,181.51L200.88,184.31Z" fill="#000"/>
<path d="M202.10,189.57L205.40,189.57L203.75,192.38Z" fill="#000"/>
<path d="M206.05,193.03L209.35,193.03L207.70,195.83Z" fill="#000"/>
<path d="M210.64,199.94L213.94,199.94L212.29,202.75Z" fill="#000"/>
<path d="M215.75,203.01L219.05,203.01L217.40,205.82Z" fill="#000"/>
<path d="M220.89,202.63L224.19,202.63L222.54,205.43Z" fill="#000"/>
<path d="M224.36,195.33L227.66,195.33L226.01,198.14Z" fill="#000"/>
<path d="M190.20,137.00V215.60H305.40" fill="none" stroke="#222" stroke-width="1.25"/>
<path d="M187.40,214.40H190.2" stroke="#222" stroke-width="1"/>
<text x="184.80" y="217.70" font-size="9" fill="#3d3d3d" text-anchor="end" textLength="15.60" lengthAdjust="spacingAndGlyphs">0.00</text>
<path d="M187.40,195.20H190.2" stroke="#222" stroke-width="1"/>
<text x="184.80" y="198.50" font-size="9" fill="#3d3d3d" text-anchor="end" textLength="15.60" lengthAdjust="spacingAndGlyphs">0.25</text>
<path d="M187.40,176.00H190.2" stroke="#222" stroke-width="1"/>
<text x="184.80" y="179.30" font-size="9" fill="#3d3d3d" text-anchor="end" textLength="15.60" lengthAdjust="spacingAndGlyphs">0.50</text>
<path d="M187.40,156.80H190.2" stroke="#222" stroke-width="1"/>
<text x="184.80" y="160.10" font-size="9" fill="#3d3d3d" text-anchor="end" textLength="15.60" lengthAdjust="spacingAndGlyphs">0.75</text>
<path d="M187.40,137.60H190.2" stroke="#222" stroke-width="1"/>
<text x="184.80" y="140.90" font-size="9" fill="#3d3d3d" text-anchor="end" textLength="15.60" lengthAdjust="spacingAndGlyphs">1.00</text>
<path d="M197.10,215.60V218.40" stroke="#222" stroke-width="1"/>
<text x="197.70" y="228.00" font-size="9" fill="#3d3d3d" text-anchor="middle" textLength="5.00" lengthAdjust="spacingAndGlyphs">0</text>
<path d="M232.10,215.60V218.40" stroke="#222" stroke-width="1"/>
<text x="232.70" y="228.00" font-size="9" fill="#3d3d3d" text-anchor="middle" textLength="17.60" lengthAdjust="spacingAndGlyphs">1000</text>
<path d="M267.10,215.60V218.40" stroke="#222" stroke-width="1"/>
<text x="267.70" y="228.00" font-size="9" fill="#3d3d3d" text-anchor="middle" textLength="17.60" lengthAdjust="spacingAndGlyphs">2000</text>
<path d="M302.10,215.60V218.40" stroke="#222" stroke-width="1"/>
<text x="302.70" y="228.00" font-size="9" fill="#3d3d3d" text-anchor="middle" textLength="17.60" lengthAdjust="spacingAndGlyphs">3000</text>
<text x="248.00" y="238.20" font-size="9.8" fill="#3d3d3d" text-anchor="middle" textLength="37.50" lengthAdjust="spacingAndGlyphs">Time [days]</text>
<text x="0" y="0" font-size="10.4" fill="#3d3d3d" text-anchor="middle" textLength="16.5" lengthAdjust="spacingAndGlyphs" transform="translate(165.10,176.30) rotate(-90)">Ratio</text>
<text x="248.40" y="128.80" font-size="8.2" fill="#333" text-anchor="middle" textLength="39.60" lengthAdjust="spacingAndGlyphs">Patient #12</text>
<path d="M342.6,145.8L343.5,145.8L344.4,145.8L345.3,146.0L346.1,146.4L347.0,146.9L347.9,147.4L348.8,148.0L349.7,148.6L350.6,149.3L351.4,150.0L352.3,150.8L353.2,151.6L354.1,152.6L355.0,153.6L355.9,154.7L356.8,155.8L357.6,157.0L358.5,158.2L359.4,159.5L360.3,160.8L361.2,162.2L362.1,163.5L362.9,164.8L363.8,166.1L364.7,167.4L365.6,168.7L366.5,170.1L367.4,171.6L368.2,173.0L369.1,174.4L370.0,175.9L370.9,177.3L371.8,178.6L372.7,180.0L373.5,181.3L374.4,182.5L375.3,183.8L376.2,185.1L377.1,186.4L378.0,187.5L378.9,188.7L379.7,189.8L380.6,190.9L381.5,191.9L382.4,193.0L383.3,194.1L384.2,195.1L385.0,196.0L385.9,196.9L386.8,197.8L387.7,198.6L388.6,199.4L389.5,200.1L390.3,200.9L391.2,201.6L392.1,202.3L393.0,202.9L393.9,203.6L394.8,204.2L395.7,204.7L396.5,205.3L397.4,205.7L398.3,206.2L399.2,206.6L400.1,207.0L401.0,207.4L401.8,207.8L402.7,208.1L403.6,208.4L404.5,208.7L405.4,209.0L406.3,209.3L407.1,209.6L408.0,209.8L408.9,210.1L409.8,210.3L410.7,210.5L411.6,210.7L412.5,210.8L413.3,211.0L414.2,211.1L415.1,211.3L416.0,211.4L416.9,211.5L417.8,211.6L418.6,211.7L419.5,211.8L420.4,211.9L421.3,212.0L422.2,212.1L423.1,212.2L423.9,212.2L424.8,212.3L425.7,212.3L426.6,212.4L427.5,212.4L428.4,212.5L429.2,212.5L430.1,212.5L431.0,212.6L431.9,212.6L432.8,212.6L433.7,212.6L434.6,212.7L435.4,212.7L436.3,212.7L437.2,212.7L438.1,212.8L439.0,212.8L439.9,212.8L440.7,212.8L441.6,212.8L442.5,212.9L443.4,212.9L444.3,212.9L445.2,213.0L446.0,213.0L446.9,213.0L447.8,213.0L448.7,213.1L448.7,214.3L447.8,214.3L446.9,214.3L446.0,214.3L445.2,214.3L444.3,214.3L443.4,214.3L442.5,214.3L441.6,214.3L440.7,214.3L439.9,214.3L439.0,214.3L438.1,214.3L437.2,214.3L436.3,214.3L435.4,214.3L434.6,214.3L433.7,214.3L432.8,214.3L431.9,214.3L431.0,214.3L430.1,214.3L429.2,214.3L428.4,214.3L427.5,214.3L426.6,214.3L425.7,214.3L424.8,214.3L423.9,214.3L423.1,214.3L422.2,214.3L421.3,214.3L420.4,214.3L419.5,214.3L418.6,214.3L417.8,214.3L416.9,214.3L416.0,214.2L415.1,214.1L414.2,214.0L413.3,213.9L412.5,213.8L411.6,213.7L410.7,213.5L409.8,213.4L408.9,213.3L408.0,213.1L407.1,212.9L406.3,212.8L405.4,212.5L404.5,212.3L403.6,212.1L402.7,211.8L401.8,211.5L401.0,211.2L400.1,210.9L399.2,210.6L398.3,210.3L397.4,210.0L396.5,209.6L395.7,209.2L394.8,208.8L393.9,208.4L393.0,207.9L392.1,207.4L391.2,206.9L390.3,206.3L389.5,205.7L388.6,205.1L387.7,204.4L386.8,203.7L385.9,203.0L385.0,202.2L384.2,201.5L383.3,200.7L382.4,199.9L381.5,199.0L380.6,198.1L379.7,197.1L378.9,196.1L378.0,195.0L377.1,194.0L376.2,192.9L375.3,191.8L374.4,190.7L373.5,189.5L372.7,188.3L371.8,187.1L370.9,185.8L370.0,184.5L369.1,183.2L368.2,181.9L367.4,180.6L366.5,179.2L365.6,177.8L364.7,176.4L363.8,174.9L362.9,173.5L362.1,172.1L361.2,170.7L360.3,169.3L359.4,168.0L358.5,166.7L357.6,165.4L356.8,164.1L355.9,162.8L355.0,161.5L354.1,160.2L353.2,159.0L352.3,157.8L351.4,156.7L350.6,155.7L349.7,154.7L348.8,153.7L347.9,152.9L347.0,152.1L346.1,151.4L345.3,150.8L344.4,150.1L343.5,149.6L342.6,149.0Z" fill="#dfdfe3" stroke="none"/>
<path d="M340.2,200.1L341.0,201.3L341.9,202.2L343.1,203.0L344.3,203.7L345.6,204.4L346.7,205.1L347.9,205.8L349.1,206.4L350.3,207.0L351.5,207.5L352.7,208.0L353.9,208.5L355.1,208.9L356.2,209.4L357.4,209.8L358.6,210.2L359.7,210.6L360.9,211.0L362.2,211.3L363.4,211.6L364.6,211.9L365.8,212.2L367.1,212.4L368.3,212.7L369.5,212.9L370.7,213.1L371.9,213.2L373.0,213.3L374.1,213.4L375.1,213.4L376.2,213.5L377.3,213.5L378.4,213.6L379.4,213.6L380.5,213.7L381.6,213.7L382.7,213.7L383.7,213.7L384.8,213.7L385.9,213.8L386.9,213.8L388.0,213.8L389.0,213.8L390.1,213.8L391.1,213.8L392.2,213.8L393.2,213.8L394.3,213.8L395.3,213.8L396.4,213.8L397.4,213.8L398.4,213.9L399.5,213.9L400.5,213.9L401.6,213.9L402.6,213.9L403.7,213.9L404.7,213.9L405.8,213.9L406.8,213.9L407.9,213.9L408.9,213.9L410.0,213.9L411.0,213.9L412.1,213.9L413.1,213.9L414.1,213.9L415.2,213.9L416.2,213.9L417.3,213.9L418.3,213.9L419.4,213.9L420.4,214.0L421.5,214.0L422.5,214.0L423.6,214.0L424.6,214.0L425.7,214.0L426.7,214.0L427.8,214.0L428.8,214.0L429.9,214.0L430.9,214.0L431.9,214.0L433.0,214.0L434.0,214.0L435.1,214.0L436.1,214.0L437.2,214.0L438.2,214.0L439.3,214.0L440.3,214.0L441.4,214.0L442.4,214.0L443.5,214.0L444.5,214.0L445.6,214.0L446.6,214.0L447.7,214.0L448.7,214.0L448.7,214.3L447.7,214.3L446.6,214.3L445.6,214.3L444.5,214.3L443.5,214.3L442.4,214.3L441.4,214.3L440.3,214.3L439.3,214.3L438.2,214.3L437.2,214.3L436.1,214.3L435.1,214.3L434.0,214.3L433.0,214.3L431.9,214.3L430.9,214.3L429.9,214.3L428.8,214.3L427.8,214.3L426.7,214.3L425.7,214.3L424.6,214.3L423.6,214.3L422.5,214.3L421.5,214.3L420.4,214.3L419.4,214.3L418.3,214.3L417.3,214.3L416.2,214.3L415.2,214.3L414.1,214.3L413.1,214.3L412.1,214.3L411.0,214.3L410.0,214.3L408.9,214.3L407.9,214.3L406.8,214.3L405.8,214.3L404.7,214.3L403.7,214.3L402.6,214.3L401.6,214.3L400.5,214.3L399.5,214.3L398.4,214.3L397.4,214.3L396.4,214.3L395.3,214.3L394.3,214.3L393.2,214.3L392.2,214.3L391.1,214.3L390.1,214.3L389.0,214.3L388.0,214.3L386.9,214.3L385.9,214.3L384.8,214.3L383.7,214.3L382.7,214.3L381.6,214.3L380.5,214.2L379.4,214.2L378.4,214.2L377.3,214.2L376.2,214.1L375.1,214.1L374.1,214.1L373.0,214.0L371.9,214.0L370.7,213.9L369.5,213.8L368.3,213.7L367.1,213.5L365.8,213.4L364.6,213.2L363.4,213.0L362.2,212.8L360.9,212.6L359.7,212.3L358.6,212.0L357.4,211.6L356.2,211.3L355.1,210.9L353.9,210.5L352.7,210.2L351.5,209.8L350.3,209.4L349.1,208.9L347.9,208.3L346.7,207.7L345.6,207.1L344.3,206.5L343.1,205.9L341.9,205.1L341.0,204.3L340.2,203.2Z" fill="#ee8fa2" fill-opacity="0.75" stroke="none"/>
<path d="M341.3,173.4L342.4,175.1L343.4,176.7L344.5,178.2L345.6,179.6L346.8,181.1L348.0,182.3L349.2,183.6L350.4,185.0L351.5,186.5L352.7,188.2L353.9,189.8L355.1,191.4L356.3,192.9L357.5,194.4L358.7,195.9L359.9,197.2L361.1,198.4L362.3,199.5L363.4,200.6L364.6,201.6L365.8,202.5L367.1,203.4L368.3,204.2L369.5,205.0L370.7,205.7L371.9,206.5L373.0,207.2L374.2,207.8L375.4,208.3L376.6,208.9L377.8,209.3L379.0,209.7L380.1,210.0L381.2,210.3L382.3,210.6L383.4,210.8L384.5,211.0L385.6,211.2L386.7,211.3L387.8,211.5L388.8,211.6L389.9,211.7L391.0,211.8L392.1,211.9L393.1,212.0L394.2,212.1L395.3,212.2L396.4,212.2L397.4,212.3L398.5,212.3L399.6,212.4L400.7,212.4L401.8,212.4L402.9,212.5L404.0,212.5L405.1,212.5L406.2,212.6L407.3,212.6L408.3,212.6L409.4,212.6L410.5,212.7L411.6,212.7L412.7,212.7L413.8,212.7L414.9,212.7L415.9,212.7L417.0,212.7L418.0,212.7L419.1,212.7L420.1,212.7L421.2,212.7L422.3,212.7L423.3,212.7L424.4,212.7L425.4,212.7L426.5,212.7L427.5,212.7L428.6,212.7L429.7,212.7L430.7,212.7L431.8,212.7L432.8,212.7L433.9,212.7L435.0,212.7L436.0,212.7L437.1,212.8L438.1,212.8L439.2,212.8L440.2,212.8L441.3,212.8L442.4,212.8L443.4,212.8L444.5,212.8L445.5,212.8L446.6,212.8L447.6,212.8L448.7,212.8L448.7,214.3L447.6,214.3L446.6,214.3L445.5,214.3L444.5,214.3L443.4,214.3L442.4,214.3L441.3,214.3L440.2,214.3L439.2,214.3L438.1,214.3L437.1,214.3L436.0,214.3L435.0,214.3L433.9,214.3L432.8,214.3L431.8,214.3L430.7,214.3L429.7,214.3L428.6,214.3L427.5,214.3L426.5,214.3L425.4,214.3L424.4,214.3L423.3,214.3L422.3,214.3L421.2,214.3L420.1,214.3L419.1,214.3L418.0,214.3L417.0,214.3L415.9,214.3L414.9,214.3L413.8,214.3L412.7,214.3L411.6,214.3L410.5,214.3L409.4,214.3L408.3,214.3L407.3,214.3L406.2,214.3L405.1,214.3L404.0,214.3L402.9,214.3L401.8,214.3L400.7,214.3L399.6,214.3L398.5,214.3L397.4,214.3L396.4,214.3L395.3,214.3L394.2,214.3L393.1,214.3L392.1,214.3L391.0,214.3L389.9,214.3L388.8,214.3L387.8,214.3L386.7,214.3L385.6,214.3L384.5,214.2L383.4,214.1L382.3,213.8L381.2,213.5L380.1,213.2L379.0,212.9L377.8,212.5L376.6,212.0L375.4,211.5L374.2,211.0L373.0,210.4L371.9,209.7L370.7,209.0L369.5,208.2L368.3,207.4L367.1,206.6L365.8,205.8L364.6,204.9L363.4,203.9L362.3,202.9L361.1,201.8L359.9,200.6L358.7,199.3L357.5,197.9L356.3,196.4L355.1,194.9L353.9,193.3L352.7,191.7L351.5,190.1L350.4,188.6L349.2,187.3L348.0,186.0L346.8,184.8L345.6,183.4L344.5,182.0L343.4,180.5L342.4,178.9L341.3,177.3Z" fill="#8fb5dc" fill-opacity="0.85" stroke="none"/>
<path d="M340.5,191.2L340.9,166.3L341.4,152.7L342.0,148.4L342.6,146.9L343.7,147.1L344.9,147.6L346.0,148.4L347.1,149.3L348.2,150.2L349.4,151.2L350.5,152.2L351.6,153.3L352.7,154.6L353.8,155.9L354.9,157.3L356.1,158.9L357.3,160.7L358.5,162.5L359.7,164.2L360.9,166.0L362.1,167.8L363.3,169.6L364.5,171.5L365.6,173.3L366.8,175.2L367.9,177.1L369.1,178.9L370.6,181.2L372.2,183.5L373.4,185.2L374.5,186.9L375.7,188.5L377.1,190.2L378.4,191.9L379.8,193.5L381.1,195.1L382.4,196.6L383.6,197.9L384.8,199.0L386.1,200.2L387.3,201.2L388.3,202.1L389.4,202.9L390.5,203.8L391.6,204.6L392.6,205.3L393.7,206.0L394.8,206.6L395.9,207.2L396.9,207.7L398.0,208.2L399.1,208.6L400.1,209.1L401.2,209.5L402.3,209.8L403.4,210.2L404.6,210.6L405.7,210.9L406.9,211.2L408.0,211.5L409.2,211.8L410.3,212.0L411.4,212.2L412.5,212.3L413.5,212.5L414.6,212.6L415.7,212.8L416.8,212.9L417.8,213.0L418.9,213.1L420.0,213.2L421.0,213.3L422.1,213.4L423.2,213.5L424.3,213.5L425.4,213.6L426.5,213.6L427.5,213.7L428.6,213.7L429.7,213.7L430.8,213.8L431.9,213.8L433.0,213.8L434.1,213.9L435.2,213.9L436.3,213.9L437.4,213.9L438.4,214.0L439.5,214.0L440.6,214.0L441.7,214.1L442.9,214.1L444.0,214.1L445.2,214.2L446.4,214.2L447.5,214.3L448.7,214.3" fill="none" stroke="#929292" stroke-width="0.9" stroke-dasharray="3 2" stroke-linejoin="round"/>
<path d="M340.2,202.8L341.0,203.8L341.9,204.7L343.1,205.4L344.3,206.0L345.6,206.6L346.7,207.2L347.9,207.8L349.1,208.4L350.3,208.9L351.5,209.3L352.7,209.7L353.9,210.1L355.1,210.5L356.2,210.8L357.4,211.2L358.6,211.5L359.7,211.8L360.9,212.1L362.2,212.4L363.4,212.6L364.6,212.8L365.8,212.9L367.1,213.1L368.3,213.2L369.5,213.3L370.7,213.4L371.9,213.5L373.0,213.6L374.1,213.7L375.1,213.7L376.2,213.8L377.3,213.8L378.4,213.9L379.4,213.9L380.5,214.0L381.6,214.0L382.7,214.0L383.7,214.0L384.8,214.1L385.9,214.1L386.9,214.1L388.0,214.1L389.0,214.1L390.1,214.1L391.1,214.1L392.2,214.1L393.2,214.1L394.3,214.1L395.3,214.1L396.4,214.1L397.4,214.2L398.4,214.2L399.5,214.2L400.5,214.2L401.6,214.2L402.6,214.2L403.7,214.2L404.7,214.2L405.8,214.2L406.8,214.2L407.9,214.2L408.9,214.2L410.0,214.2L411.0,214.2L412.1,214.2L413.1,214.2L414.1,214.2L415.2,214.2L416.2,214.2L417.3,214.2L418.3,214.3L419.4,214.3L420.4,214.3L421.5,214.3L422.5,214.3L423.6,214.3L424.6,214.3L425.7,214.3L426.7,214.3L427.8,214.3L428.8,214.3L429.9,214.3L430.9,214.3L431.9,214.3L433.0,214.3L434.0,214.3L435.1,214.3L436.1,214.3L437.2,214.3L438.2,214.3L439.3,214.3L440.3,214.3L441.4,214.3L442.4,214.3L443.5,214.3L444.5,214.3L445.6,214.3L446.6,214.3L447.7,214.3L448.7,214.3" fill="none" stroke="#cf1032" stroke-width="1.4" stroke-linejoin="round"/>
<path d="M340.3,205.1L340.6,192.9L340.9,183.5L341.1,178.2L341.3,175.3L342.4,176.0L343.4,177.7L344.5,179.8L345.6,181.5L346.8,182.9L348.0,184.2L349.2,185.4L350.4,186.8L351.5,188.3L352.7,189.9L353.9,191.6L355.1,193.1L356.3,194.6L357.5,196.1L358.7,197.6L359.9,198.9L361.1,200.1L362.3,201.2L363.4,202.2L364.6,203.2L365.8,204.1L367.1,205.0L368.3,205.8L369.5,206.6L370.7,207.4L371.9,208.1L373.0,208.8L374.2,209.4L375.4,209.9L376.6,210.4L377.8,210.9L379.0,211.3L380.1,211.6L381.2,211.9L382.3,212.2L383.4,212.4L384.5,212.6L385.6,212.8L386.7,212.9L387.8,213.0L388.8,213.2L389.9,213.3L391.0,213.4L392.1,213.5L393.1,213.6L394.2,213.6L395.3,213.7L396.4,213.8L397.4,213.8L398.5,213.9L399.6,213.9L400.7,213.9L401.8,214.0L402.9,214.0L404.0,214.0L405.1,214.1L406.2,214.1L407.3,214.1L408.3,214.2L409.4,214.2L410.5,214.2L411.6,214.2L412.7,214.2L413.8,214.2L414.9,214.2L415.9,214.2L417.0,214.2L418.0,214.2L419.1,214.2L420.1,214.2L421.2,214.3L422.3,214.3L423.3,214.3L424.4,214.3L425.4,214.3L426.5,214.3L427.5,214.3L428.6,214.3L429.7,214.3L430.7,214.3L431.8,214.3L432.8,214.3L433.9,214.3L435.0,214.3L436.0,214.3L437.1,214.3L438.1,214.3L439.2,214.3L440.2,214.3L441.3,214.3L442.4,214.3L443.4,214.3L444.5,214.3L445.5,214.3L446.6,214.3L447.6,214.3L448.7,214.3" fill="none" stroke="#4f83bb" stroke-width="1.0" stroke-linejoin="round"/>
<path d="M340.3,205.1L340.6,192.9L340.9,183.5L341.1,178.2L341.3,175.3L342.4,176.0L343.4,177.7L344.5,179.8L345.6,181.5L346.8,182.9L348.0,184.2L349.2,185.4L350.4,186.8L351.5,188.3L352.7,189.9L353.9,191.6L355.1,193.1L356.3,194.6L357.5,196.1L358.7,197.6L359.9,198.9L361.1,200.1L362.3,201.2L363.4,202.2L364.6,203.2L365.8,204.1L367.1,205.0L368.3,205.8L369.5,206.6L370.7,207.4L371.9,208.1L373.0,208.8L374.2,209.4L375.4,209.9L376.6,210.4L377.8,210.9L379.0,211.3L380.1,211.6L381.2,211.9L382.3,212.2L383.4,212.4L384.5,212.6L385.6,212.8L386.7,212.9L387.8,213.0L388.8,213.2L389.9,213.3L391.0,213.4L392.1,213.5L393.1,213.6L394.2,213.6L395.3,213.7L396.4,213.8L397.4,213.8L398.5,213.9L399.6,213.9L400.7,213.9L401.8,214.0L402.9,214.0L404.0,214.0L405.1,214.1L406.2,214.1L407.3,214.1L408.3,214.2L409.4,214.2L410.5,214.2L411.6,214.2L412.7,214.2L413.8,214.2L414.9,214.2L415.9,214.2L417.0,214.2L418.0,214.2L419.1,214.2L420.1,214.2L421.2,214.3L422.3,214.3L423.3,214.3L424.4,214.3L425.4,214.3L426.5,214.3L427.5,214.3L428.6,214.3L429.7,214.3L430.7,214.3L431.8,214.3L432.8,214.3L433.9,214.3L435.0,214.3L436.0,214.3L437.1,214.3L438.1,214.3L439.2,214.3L440.2,214.3L441.3,214.3L442.4,214.3L443.4,214.3L444.5,214.3L445.5,214.3L446.6,214.3L447.6,214.3L448.7,214.3" fill="none" stroke="#0a4480" stroke-width="1.6" stroke-dasharray="2.2 1.3" stroke-linejoin="round"/>
<rect x="352.72" y="143.60" width="2.8" height="2.8" fill="#b6b6bc"/>
<rect x="356.91" y="149.76" width="2.8" height="2.8" fill="#b6b6bc"/>
<rect x="346.44" y="148.22" width="2.8" height="2.8" fill="#b6b6bc"/>
<rect x="364.34" y="171.71" width="2.8" height="2.8" fill="#b6b6bc"/>
<rect x="367.03" y="177.09" width="2.8" height="2.8" fill="#b6b6bc"/>
<rect x="372.27" y="182.87" width="2.8" height="2.8" fill="#b6b6bc"/>
<rect x="376.45" y="184.41" width="2.8" height="2.8" fill="#b6b6bc"/>
<rect x="383.78" y="199.04" width="2.8" height="2.8" fill="#b6b6bc"/>
<rect x="391.11" y="204.05" width="2.8" height="2.8" fill="#b6b6bc"/>
<rect x="412.99" y="203.28" width="2.8" height="2.8" fill="#b6b6bc"/>
<path d="M338.69,203.66L341.99,203.66L340.34,206.46Z" fill="#000"/>
<path d="M340.67,191.72L343.97,191.72L342.32,194.53Z" fill="#000"/>
<path d="M343.92,178.25L347.22,178.25L345.57,181.05Z" fill="#000"/>
<path d="M346.82,176.71L350.12,176.71L348.47,179.51Z" fill="#000"/>
<path d="M356.52,200.12L359.82,200.12L358.17,202.92Z" fill="#000"/>
<path d="M363.46,200.35L366.76,200.35L365.11,203.15Z" fill="#000"/>
<path d="M367.34,203.20L370.64,203.20L368.99,206.00Z" fill="#000"/>
<path d="M370.79,207.97L374.09,207.97L372.44,210.77Z" fill="#000"/>
<path d="M375.37,210.36L378.67,210.36L377.02,213.16Z" fill="#000"/>
<path d="M379.73,209.82L383.03,209.82L381.38,212.62Z" fill="#000"/>
<path d="M391.21,212.13L394.51,212.13L392.86,214.93Z" fill="#000"/>
<path d="M406.46,211.36L409.76,211.36L408.11,214.16Z" fill="#000"/>
<path d="M337.00,136.50V215.50H451.80" fill="none" stroke="#222" stroke-width="1.25"/>
<path d="M334.20,214.30H337.0" stroke="#222" stroke-width="1"/>
<text x="331.60" y="217.60" font-size="9" fill="#3d3d3d" text-anchor="end" textLength="15.60" lengthAdjust="spacingAndGlyphs">0.00</text>
<path d="M334.20,195.05H337.0" stroke="#222" stroke-width="1"/>
<text x="331.60" y="198.35" font-size="9" fill="#3d3d3d" text-anchor="end" textLength="15.60" lengthAdjust="spacingAndGlyphs">0.25</text>
<path d="M334.20,175.80H337.0" stroke="#222" stroke-width="1"/>
<text x="331.60" y="179.10" font-size="9" fill="#3d3d3d" text-anchor="end" textLength="15.60" lengthAdjust="spacingAndGlyphs">0.50</text>
<path d="M334.20,156.55H337.0" stroke="#222" stroke-width="1"/>
<text x="331.60" y="159.85" font-size="9" fill="#3d3d3d" text-anchor="end" textLength="15.60" lengthAdjust="spacingAndGlyphs">0.75</text>
<path d="M334.20,137.30H337.0" stroke="#222" stroke-width="1"/>
<text x="331.60" y="140.60" font-size="9" fill="#3d3d3d" text-anchor="end" textLength="15.60" lengthAdjust="spacingAndGlyphs">1.00</text>
<path d="M344.00,215.50V218.30" stroke="#222" stroke-width="1"/>
<text x="344.60" y="227.90" font-size="9" fill="#3d3d3d" text-anchor="middle" textLength="5.00" lengthAdjust="spacingAndGlyphs">0</text>
<path d="M378.90,215.50V218.30" stroke="#222" stroke-width="1"/>
<text x="379.50" y="227.90" font-size="9" fill="#3d3d3d" text-anchor="middle" textLength="17.60" lengthAdjust="spacingAndGlyphs">1000</text>
<path d="M413.80,215.50V218.30" stroke="#222" stroke-width="1"/>
<text x="414.40" y="227.90" font-size="9" fill="#3d3d3d" text-anchor="middle" textLength="17.60" lengthAdjust="spacingAndGlyphs">2000</text>
<path d="M448.70,215.50V218.30" stroke="#222" stroke-width="1"/>
<text x="449.30" y="227.90" font-size="9" fill="#3d3d3d" text-anchor="middle" textLength="17.60" lengthAdjust="spacingAndGlyphs">3000</text>
<text x="394.70" y="238.10" font-size="9.8" fill="#3d3d3d" text-anchor="middle" textLength="37.50" lengthAdjust="spacingAndGlyphs">Time [days]</text>
<text x="0" y="0" font-size="10.4" fill="#3d3d3d" text-anchor="middle" textLength="16.5" lengthAdjust="spacingAndGlyphs" transform="translate(311.50,176.40) rotate(-90)">Ratio</text>
<text x="384.60" y="128.80" font-size="8.2" fill="#333" text-anchor="middle" textLength="39.50" lengthAdjust="spacingAndGlyphs">Patient #32</text>
<rect x="411.80" y="127.40" width="101.60" height="69.60" fill="#fff" stroke="#222" stroke-width="1.1"/>
<text x="428.60" y="136.90" font-size="8.2" fill="#111" font-style="italic" stroke="#111" stroke-width="0.15" textLength="17.4" lengthAdjust="spacingAndGlyphs">JAK2</text>
<text x="446.30" y="133.90" font-size="3.6" fill="#222" textLength="9.8" lengthAdjust="spacingAndGlyphs">V617F</text>
<path d="M426.00,137.30H456.00" stroke="#222" stroke-width="1"/>
<text x="427.80" y="146.90" font-size="8.0" fill="#111" textLength="25.00" lengthAdjust="spacingAndGlyphs" stroke="#111" stroke-width="0.15">- Data -</text>
<text x="427.80" y="154.10" font-size="8.0" fill="#111" textLength="83.00" lengthAdjust="spacingAndGlyphs" stroke="#111" stroke-width="0.15">Exp. hom progenitors CF</text>
<text x="427.80" y="161.80" font-size="8.0" fill="#111" textLength="74.00" lengthAdjust="spacingAndGlyphs" stroke="#111" stroke-width="0.15">Exp. mature cells VAF</text>
<text x="427.80" y="169.10" font-size="8.0" fill="#111" textLength="30.50" lengthAdjust="spacingAndGlyphs" stroke="#111" stroke-width="0.15">- Model -</text>
<text x="427.80" y="177.20" font-size="8.0" fill="#111" textLength="43.60" lengthAdjust="spacingAndGlyphs" stroke="#111" stroke-width="0.15">Hom HSC CF</text>
<text x="427.80" y="184.90" font-size="8.0" fill="#111" textLength="67.50" lengthAdjust="spacingAndGlyphs" stroke="#111" stroke-width="0.15">Hom progenitors CF</text>
<text x="427.80" y="192.80" font-size="8.0" fill="#111" textLength="56.50" lengthAdjust="spacingAndGlyphs" stroke="#111" stroke-width="0.15">Mature cells VAF</text>
<path d="M416.90,150.10L420.90,150.10L418.90,154.10Z" fill="#000"/>
<rect x="417.25" y="158.05" width="3.3" height="3.3" fill="#b9b9b9"/>
<path d="M414.20,174.60H422.80" stroke="#cf1032" stroke-width="1.3"/>
<path d="M414.20,182.90H422.80" stroke="#0a4480" stroke-width="1.3" stroke-dasharray="3 1.5 1.2 1.5"/>
<path d="M414.20,190.50H422.80" stroke="#929292" stroke-width="1.0" stroke-dasharray="2.5 1.5"/>
<path d="M40.8,317.9L42.0,318.3L43.2,318.7L44.3,318.9L45.4,319.1L46.5,319.3L47.6,319.5L48.7,319.6L49.8,319.8L50.9,319.9L52.0,320.1L53.1,320.2L54.2,320.3L55.3,320.4L56.4,320.6L57.5,320.7L58.6,320.8L59.7,321.0L60.9,321.1L62.0,321.3L63.1,321.4L64.2,321.6L65.3,321.7L66.4,321.9L67.5,322.1L68.6,322.2L69.7,322.4L70.8,322.5L71.9,322.7L73.0,322.8L74.1,323.0L75.2,323.2L76.3,323.3L77.4,323.5L78.5,323.6L79.6,323.8L80.7,324.0L81.8,324.1L82.9,324.3L84.0,324.5L85.1,324.6L86.2,324.8L87.3,325.0L88.4,325.1L89.5,325.3L90.6,325.5L91.7,325.6L92.8,325.8L93.9,326.0L95.0,326.1L96.2,326.3L97.3,326.5L98.4,326.6L99.5,326.8L100.6,327.0L101.7,327.1L102.8,327.3L103.9,327.5L105.0,327.6L106.1,327.8L107.2,328.0L108.3,328.1L109.4,328.3L110.5,328.4L111.6,328.6L112.7,328.7L113.8,328.9L114.9,329.0L116.0,329.2L117.1,329.3L118.2,329.5L119.3,329.6L120.4,329.7L121.5,329.9L122.6,330.0L123.7,330.1L124.8,330.3L125.9,330.4L127.0,330.5L128.1,330.7L129.2,330.8L130.3,330.9L131.4,331.0L132.6,331.2L133.7,331.3L134.8,331.4L135.9,331.5L137.0,331.6L138.1,331.8L139.2,331.9L140.3,332.0L141.4,332.1L142.5,332.2L143.6,332.3L144.7,332.4L145.8,332.5L146.9,332.6L148.0,332.8L149.1,332.9L149.1,338.0L148.0,337.9L146.9,337.8L145.8,337.7L144.7,337.6L143.6,337.5L142.5,337.4L141.4,337.3L140.3,337.2L139.2,337.0L138.1,336.9L137.0,336.8L135.9,336.7L134.8,336.6L133.7,336.5L132.6,336.3L131.4,336.2L130.3,336.1L129.2,336.0L128.1,335.8L127.0,335.7L125.9,335.6L124.8,335.5L123.7,335.3L122.6,335.2L121.5,335.1L120.4,334.9L119.3,334.8L118.2,334.6L117.1,334.5L116.0,334.4L114.9,334.2L113.8,334.1L112.7,333.9L111.6,333.8L110.5,333.6L109.4,333.5L108.3,333.3L107.2,333.1L106.1,333.0L105.0,332.8L103.9,332.7L102.8,332.5L101.7,332.3L100.6,332.2L99.5,332.0L98.4,331.8L97.3,331.7L96.2,331.5L95.0,331.3L93.9,331.2L92.8,331.0L91.7,330.8L90.6,330.7L89.5,330.5L88.4,330.3L87.3,330.2L86.2,330.0L85.1,329.8L84.0,329.6L82.9,329.5L81.8,329.3L80.7,329.1L79.6,329.0L78.5,328.8L77.4,328.7L76.3,328.5L75.2,328.3L74.1,328.2L73.0,328.0L71.9,327.9L70.8,327.7L69.7,327.6L68.6,327.4L67.5,327.2L66.4,327.1L65.3,326.9L64.2,326.8L63.1,326.6L62.0,326.5L60.9,326.3L59.7,326.2L58.6,326.0L57.5,325.9L56.4,325.8L55.3,325.6L54.2,325.5L53.1,325.4L52.0,325.3L50.9,325.1L49.8,325.0L48.7,324.8L47.6,324.7L46.5,324.5L45.4,324.3L44.3,324.1L43.2,323.9L42.0,323.5L40.8,323.1Z" fill="#dfdfe3" stroke="none"/>
<path d="M43.2,328.5L44.3,328.7L45.4,328.9L46.5,329.1L47.6,329.3L48.7,329.5L49.8,329.7L50.9,329.9L52.0,330.1L53.1,330.3L54.2,330.5L55.3,330.7L56.4,330.9L57.5,331.0L58.6,331.2L59.7,331.4L60.9,331.6L62.0,331.8L63.1,331.9L64.2,332.1L65.3,332.3L66.4,332.4L67.5,332.6L68.6,332.8L69.7,332.9L70.8,333.1L71.9,333.3L73.0,333.4L74.1,333.6L75.2,333.7L76.3,333.9L77.4,334.1L78.5,334.2L79.6,334.4L80.7,334.5L81.8,334.7L82.9,334.8L84.0,335.0L85.1,335.1L86.2,335.3L87.3,335.4L88.4,335.5L89.5,335.7L90.6,335.8L91.7,336.0L92.8,336.1L93.9,336.2L95.0,336.4L96.2,336.5L97.3,336.6L98.4,336.7L99.5,336.9L100.6,337.0L101.7,337.1L102.8,337.2L103.9,337.3L105.0,337.5L106.1,337.6L107.2,337.7L108.3,337.8L109.4,337.9L110.5,338.0L111.6,338.1L112.7,338.2L113.8,338.3L114.9,338.4L116.0,338.5L117.1,338.6L118.2,338.7L119.3,338.8L120.4,338.9L121.5,339.0L122.6,339.1L123.7,339.2L124.8,339.3L125.9,339.4L127.0,339.5L128.1,339.6L129.2,339.7L130.3,339.7L131.4,339.8L132.6,339.9L133.7,340.0L134.8,340.1L135.9,340.1L137.0,340.2L138.1,340.3L139.2,340.4L140.3,340.4L141.4,340.5L142.5,340.6L143.6,340.6L144.7,340.7L145.8,340.8L146.9,340.8L148.0,340.9L149.1,341.0L149.1,342.0L148.0,341.9L146.9,341.9L145.8,341.8L144.7,341.8L143.6,341.7L142.5,341.7L141.4,341.6L140.3,341.6L139.2,341.5L138.1,341.5L137.0,341.4L135.9,341.4L134.8,341.3L133.7,341.3L132.6,341.2L131.4,341.1L130.3,341.1L129.2,341.0L128.1,341.0L127.0,340.9L125.9,340.8L124.8,340.8L123.7,340.7L122.6,340.6L121.5,340.6L120.4,340.5L119.3,340.4L118.2,340.3L117.1,340.3L116.0,340.2L114.9,340.1L113.8,340.0L112.7,340.0L111.6,339.9L110.5,339.8L109.4,339.7L108.3,339.6L107.2,339.6L106.1,339.5L105.0,339.4L103.9,339.3L102.8,339.2L101.7,339.1L100.6,339.0L99.5,339.0L98.4,338.9L97.3,338.8L96.2,338.7L95.0,338.6L93.9,338.5L92.8,338.4L91.7,338.3L90.6,338.2L89.5,338.1L88.4,338.0L87.3,337.9L86.2,337.8L85.1,337.7L84.0,337.6L82.9,337.4L81.8,337.3L80.7,337.2L79.6,337.1L78.5,337.0L77.4,336.9L76.3,336.8L75.2,336.7L74.1,336.5L73.0,336.4L71.9,336.3L70.8,336.2L69.7,336.1L68.6,335.9L67.5,335.8L66.4,335.7L65.3,335.6L64.2,335.4L63.1,335.3L62.0,335.2L60.9,335.1L59.7,334.9L58.6,334.8L57.5,334.7L56.4,334.5L55.3,334.4L54.2,334.2L53.1,334.1L52.0,334.0L50.9,333.8L49.8,333.7L48.7,333.5L47.6,333.4L46.5,333.2L45.4,333.1L44.3,332.9L43.2,332.8Z" fill="#66c6f0" stroke="none"/>
<path d="M40.8,320.5L42.0,320.9L43.2,321.3L44.3,321.5L45.4,321.7L46.5,321.9L47.6,322.1L48.7,322.2L49.8,322.4L50.9,322.5L52.0,322.7L53.1,322.8L54.2,322.9L55.3,323.0L56.4,323.2L57.5,323.3L58.6,323.4L59.7,323.6L60.9,323.7L62.0,323.9L63.1,324.0L64.2,324.2L65.3,324.3L66.4,324.5L67.5,324.6L68.6,324.8L69.7,325.0L70.8,325.1L71.9,325.3L73.0,325.4L74.1,325.6L75.2,325.7L76.3,325.9L77.4,326.1L78.5,326.2L79.6,326.4L80.7,326.6L81.8,326.7L82.9,326.9L84.0,327.1L85.1,327.2L86.2,327.4L87.3,327.6L88.4,327.7L89.5,327.9L90.6,328.1L91.7,328.2L92.8,328.4L93.9,328.6L95.0,328.7L96.2,328.9L97.3,329.1L98.4,329.2L99.5,329.4L100.6,329.6L101.7,329.7L102.8,329.9L103.9,330.1L105.0,330.2L106.1,330.4L107.2,330.6L108.3,330.7L109.4,330.9L110.5,331.0L111.6,331.2L112.7,331.3L113.8,331.5L114.9,331.6L116.0,331.8L117.1,331.9L118.2,332.1L119.3,332.2L120.4,332.3L121.5,332.5L122.6,332.6L123.7,332.7L124.8,332.9L125.9,333.0L127.0,333.1L128.1,333.2L129.2,333.4L130.3,333.5L131.4,333.6L132.6,333.7L133.7,333.9L134.8,334.0L135.9,334.1L137.0,334.2L138.1,334.3L139.2,334.5L140.3,334.6L141.4,334.7L142.5,334.8L143.6,334.9L144.7,335.0L145.8,335.1L146.9,335.2L148.0,335.3L149.1,335.5" fill="none" stroke="#929292" stroke-width="0.9" stroke-dasharray="3 2" stroke-linejoin="round"/>
<path d="M43.2,330.7L44.3,330.8L45.4,331.0L46.5,331.2L47.6,331.4L48.7,331.5L49.8,331.7L50.9,331.9L52.0,332.0L53.1,332.2L54.2,332.4L55.3,332.5L56.4,332.7L57.5,332.8L58.6,333.0L59.7,333.2L60.9,333.3L62.0,333.5L63.1,333.6L64.2,333.8L65.3,333.9L66.4,334.1L67.5,334.2L68.6,334.4L69.7,334.5L70.8,334.6L71.9,334.8L73.0,334.9L74.1,335.1L75.2,335.2L76.3,335.3L77.4,335.5L78.5,335.6L79.6,335.7L80.7,335.9L81.8,336.0L82.9,336.1L84.0,336.3L85.1,336.4L86.2,336.5L87.3,336.6L88.4,336.8L89.5,336.9L90.6,337.0L91.7,337.1L92.8,337.2L93.9,337.4L95.0,337.5L96.2,337.6L97.3,337.7L98.4,337.8L99.5,337.9L100.6,338.0L101.7,338.1L102.8,338.2L103.9,338.3L105.0,338.4L106.1,338.5L107.2,338.6L108.3,338.7L109.4,338.8L110.5,338.9L111.6,339.0L112.7,339.1L113.8,339.2L114.9,339.3L116.0,339.4L117.1,339.4L118.2,339.5L119.3,339.6L120.4,339.7L121.5,339.8L122.6,339.9L123.7,340.0L124.8,340.0L125.9,340.1L127.0,340.2L128.1,340.3L129.2,340.3L130.3,340.4L131.4,340.5L132.6,340.6L133.7,340.6L134.8,340.7L135.9,340.8L137.0,340.8L138.1,340.9L139.2,340.9L140.3,341.0L141.4,341.1L142.5,341.1L143.6,341.2L144.7,341.3L145.8,341.3L146.9,341.4L148.0,341.4L149.1,341.5" fill="none" stroke="#1a86c8" stroke-width="1.0" stroke-dasharray="2.5 1 1 1" stroke-linejoin="round"/>
<path d="M43.2,332.9L44.3,333.1L45.4,333.3L46.5,333.5L47.6,333.7L48.7,333.9L49.8,334.1L50.9,334.3L52.0,334.4L53.1,334.6L54.2,334.8L55.3,335.0L56.4,335.1L57.5,335.3L58.6,335.4L59.7,335.6L60.9,335.8L62.0,335.9L63.1,336.1L64.2,336.2L65.3,336.3L66.4,336.5L67.5,336.6L68.6,336.7L69.7,336.9L70.8,337.0L71.9,337.1L73.0,337.3L74.1,337.4L75.2,337.5L76.3,337.6L77.4,337.8L78.5,337.9L79.6,338.0L80.7,338.1L81.8,338.3L82.9,338.4L84.0,338.5L85.1,338.7L86.2,338.8L87.3,338.9L88.4,339.1L89.5,339.2L90.6,339.3L91.7,339.4L92.8,339.5L93.9,339.7L95.0,339.8L96.2,339.9L97.3,340.0L98.4,340.1L99.5,340.2L100.6,340.3L101.7,340.4L102.8,340.4L103.9,340.5L105.0,340.6L106.1,340.7L107.2,340.8L108.3,340.9L109.4,340.9L110.5,341.0L111.6,341.1L112.7,341.2L113.8,341.2L114.9,341.3L116.0,341.4L117.1,341.5L118.2,341.5L119.3,341.6L120.4,341.6L121.5,341.7L122.6,341.8L123.7,341.8L124.8,341.9L125.9,342.0L127.0,342.0L128.1,342.1L129.2,342.1L130.3,342.2L131.4,342.2L132.6,342.3L133.7,342.3L134.8,342.4L135.9,342.4L137.0,342.5L138.1,342.5L139.2,342.6L140.3,342.6L141.4,342.7L142.5,342.7L143.6,342.8L144.7,342.8L145.8,342.9L146.9,342.9L148.0,343.0L149.1,343.0" fill="none" stroke="#cf1032" stroke-width="1.4" stroke-linejoin="round"/>
<rect x="39.40" y="318.35" width="2.8" height="2.8" fill="#b6b6bc"/>
<rect x="44.41" y="324.75" width="2.8" height="2.8" fill="#b6b6bc"/>
<rect x="48.40" y="320.11" width="2.8" height="2.8" fill="#b6b6bc"/>
<rect x="55.92" y="323.69" width="2.8" height="2.8" fill="#b6b6bc"/>
<rect x="61.11" y="327.04" width="2.8" height="2.8" fill="#b6b6bc"/>
<rect x="65.80" y="329.02" width="2.8" height="2.8" fill="#b6b6bc"/>
<rect x="71.28" y="327.50" width="2.8" height="2.8" fill="#b6b6bc"/>
<rect x="76.11" y="325.06" width="2.8" height="2.8" fill="#b6b6bc"/>
<rect x="81.90" y="328.26" width="2.8" height="2.8" fill="#b6b6bc"/>
<rect x="87.69" y="325.97" width="2.8" height="2.8" fill="#b6b6bc"/>
<rect x="92.28" y="326.43" width="2.8" height="2.8" fill="#b6b6bc"/>
<rect x="108.87" y="324.45" width="2.8" height="2.8" fill="#b6b6bc"/>
<circle cx="40.80" cy="324.33" r="1.35" fill="#1fa6e4" stroke="#000" stroke-width="0.9"/>
<circle cx="45.81" cy="331.95" r="1.35" fill="#1fa6e4" stroke="#000" stroke-width="0.9"/>
<circle cx="49.80" cy="331.95" r="1.35" fill="#1fa6e4" stroke="#000" stroke-width="0.9"/>
<circle cx="54.21" cy="332.94" r="1.35" fill="#1fa6e4" stroke="#000" stroke-width="0.9"/>
<circle cx="58.20" cy="334.31" r="1.35" fill="#1fa6e4" stroke="#000" stroke-width="0.9"/>
<circle cx="67.20" cy="337.28" r="1.35" fill="#1fa6e4" stroke="#000" stroke-width="0.9"/>
<circle cx="72.32" cy="339.03" r="1.35" fill="#1fa6e4" stroke="#000" stroke-width="0.9"/>
<circle cx="77.90" cy="335.76" r="1.35" fill="#1fa6e4" stroke="#000" stroke-width="0.9"/>
<circle cx="83.30" cy="337.66" r="1.35" fill="#1fa6e4" stroke="#000" stroke-width="0.9"/>
<circle cx="88.21" cy="338.04" r="1.35" fill="#1fa6e4" stroke="#000" stroke-width="0.9"/>
<circle cx="93.78" cy="335.30" r="1.35" fill="#1fa6e4" stroke="#000" stroke-width="0.9"/>
<circle cx="105.50" cy="343.22" r="1.35" fill="#1fa6e4" stroke="#000" stroke-width="0.9"/>
<circle cx="110.62" cy="338.35" r="1.35" fill="#1fa6e4" stroke="#000" stroke-width="0.9"/>
<path d="M37.60,267.20V346.40H152.70" fill="none" stroke="#222" stroke-width="1.25"/>
<path d="M34.80,344.90H37.6" stroke="#222" stroke-width="1"/>
<text x="32.20" y="348.20" font-size="9" fill="#3d3d3d" text-anchor="end" textLength="15.60" lengthAdjust="spacingAndGlyphs">0.00</text>
<path d="M34.80,325.85H37.6" stroke="#222" stroke-width="1"/>
<text x="32.20" y="329.15" font-size="9" fill="#3d3d3d" text-anchor="end" textLength="15.60" lengthAdjust="spacingAndGlyphs">0.25</text>
<path d="M34.80,306.80H37.6" stroke="#222" stroke-width="1"/>
<text x="32.20" y="310.10" font-size="9" fill="#3d3d3d" text-anchor="end" textLength="15.60" lengthAdjust="spacingAndGlyphs">0.50</text>
<path d="M34.80,287.75H37.6" stroke="#222" stroke-width="1"/>
<text x="32.20" y="291.05" font-size="9" fill="#3d3d3d" text-anchor="end" textLength="15.60" lengthAdjust="spacingAndGlyphs">0.75</text>
<path d="M34.80,268.70H37.6" stroke="#222" stroke-width="1"/>
<text x="32.20" y="272.00" font-size="9" fill="#3d3d3d" text-anchor="end" textLength="15.60" lengthAdjust="spacingAndGlyphs">1.00</text>
<path d="M43.20,346.40V349.20" stroke="#222" stroke-width="1"/>
<text x="43.80" y="358.80" font-size="9" fill="#3d3d3d" text-anchor="middle" textLength="5.00" lengthAdjust="spacingAndGlyphs">0</text>
<path d="M78.50,346.40V349.20" stroke="#222" stroke-width="1"/>
<text x="79.10" y="358.80" font-size="9" fill="#3d3d3d" text-anchor="middle" textLength="17.60" lengthAdjust="spacingAndGlyphs">1000</text>
<path d="M113.80,346.40V349.20" stroke="#222" stroke-width="1"/>
<text x="114.40" y="358.80" font-size="9" fill="#3d3d3d" text-anchor="middle" textLength="17.60" lengthAdjust="spacingAndGlyphs">2000</text>
<path d="M149.10,346.40V349.20" stroke="#222" stroke-width="1"/>
<text x="149.70" y="358.80" font-size="9" fill="#3d3d3d" text-anchor="middle" textLength="17.60" lengthAdjust="spacingAndGlyphs">3000</text>
<text x="95.10" y="369.00" font-size="9.8" fill="#3d3d3d" text-anchor="middle" textLength="37.50" lengthAdjust="spacingAndGlyphs">Time [days]</text>
<text x="0" y="0" font-size="10.4" fill="#3d3d3d" text-anchor="middle" textLength="16.5" lengthAdjust="spacingAndGlyphs" transform="translate(14.00,307.60) rotate(-90)">Ratio</text>
<text x="96.40" y="262.60" font-size="8.2" fill="#333" text-anchor="middle" textLength="35.90" lengthAdjust="spacingAndGlyphs">Patient #2</text>
<path d="M193.4,315.0L194.5,315.2L195.7,315.4L196.8,315.5L197.9,315.7L199.0,315.9L200.2,316.1L201.3,316.3L202.4,316.5L203.6,316.7L204.7,316.9L205.8,317.0L206.9,317.2L208.1,317.4L209.2,317.6L210.3,317.8L211.5,317.9L212.6,318.1L213.7,318.3L214.8,318.5L216.0,318.6L217.1,318.8L218.2,319.0L219.3,319.1L220.5,319.3L221.6,319.4L222.7,319.6L223.9,319.8L225.0,319.9L226.1,320.1L227.2,320.3L228.4,320.4L229.5,320.6L230.6,320.8L231.8,320.9L232.9,321.1L234.0,321.3L235.1,321.5L236.3,321.6L237.4,321.8L238.5,322.0L239.7,322.2L240.8,322.4L241.9,322.5L243.0,322.7L244.2,322.9L245.3,323.1L246.4,323.2L247.6,323.4L248.7,323.6L249.8,323.8L250.9,323.9L252.1,324.1L253.2,324.3L254.3,324.4L255.4,324.6L256.6,324.8L257.7,324.9L258.8,325.1L260.0,325.3L261.1,325.4L262.2,325.6L263.3,325.7L264.5,325.9L265.6,326.1L266.7,326.2L267.9,326.4L269.0,326.5L270.1,326.7L271.2,326.8L272.4,327.0L273.5,327.1L274.6,327.3L275.8,327.4L276.9,327.6L278.0,327.7L279.1,327.9L280.3,328.0L281.4,328.2L282.5,328.3L283.6,328.5L284.8,328.6L285.9,328.8L287.0,328.9L288.2,329.1L289.3,329.3L290.4,329.4L291.5,329.6L292.7,329.7L293.8,329.9L294.9,330.1L296.1,330.2L297.2,330.4L298.3,330.6L299.4,330.7L300.6,330.9L301.7,331.1L301.7,336.6L300.6,336.4L299.4,336.3L298.3,336.1L297.2,336.0L296.1,335.8L294.9,335.7L293.8,335.5L292.7,335.4L291.5,335.2L290.4,335.1L289.3,334.9L288.2,334.8L287.0,334.7L285.9,334.5L284.8,334.4L283.6,334.2L282.5,334.1L281.4,334.0L280.3,333.8L279.1,333.7L278.0,333.6L276.9,333.4L275.8,333.3L274.6,333.1L273.5,333.0L272.4,332.9L271.2,332.7L270.1,332.6L269.0,332.5L267.9,332.3L266.7,332.2L265.6,332.1L264.5,331.9L263.3,331.8L262.2,331.6L261.1,331.5L260.0,331.3L258.8,331.2L257.7,331.0L256.6,330.9L255.4,330.7L254.3,330.6L253.2,330.4L252.1,330.3L250.9,330.1L249.8,330.0L248.7,329.8L247.6,329.7L246.4,329.5L245.3,329.3L244.2,329.2L243.0,329.0L241.9,328.9L240.8,328.7L239.7,328.5L238.5,328.4L237.4,328.2L236.3,328.1L235.1,327.9L234.0,327.7L232.9,327.6L231.8,327.4L230.6,327.3L229.5,327.1L228.4,327.0L227.2,326.8L226.1,326.7L225.0,326.5L223.9,326.4L222.7,326.2L221.6,326.1L220.5,325.9L219.3,325.8L218.2,325.6L217.1,325.5L216.0,325.3L214.8,325.2L213.7,325.0L212.6,324.9L211.5,324.7L210.3,324.5L209.2,324.4L208.1,324.2L206.9,324.1L205.8,323.9L204.7,323.7L203.6,323.6L202.4,323.4L201.3,323.2L200.2,323.1L199.0,322.9L197.9,322.7L196.8,322.5L195.7,322.4L194.5,322.2L193.4,322.0Z" fill="#dfdfe3" stroke="none"/>
<path d="M193.4,332.5L194.5,332.6L195.7,332.8L196.8,332.9L197.9,333.0L199.0,333.1L200.2,333.2L201.3,333.3L202.4,333.5L203.6,333.6L204.7,333.7L205.8,333.8L206.9,333.9L208.1,334.0L209.2,334.1L210.3,334.2L211.5,334.3L212.6,334.4L213.7,334.6L214.8,334.7L216.0,334.8L217.1,334.9L218.2,335.0L219.3,335.0L220.5,335.1L221.6,335.2L222.7,335.3L223.9,335.4L225.0,335.5L226.1,335.6L227.2,335.7L228.4,335.8L229.5,335.9L230.6,336.0L231.8,336.1L232.9,336.1L234.0,336.2L235.1,336.3L236.3,336.4L237.4,336.5L238.5,336.6L239.7,336.6L240.8,336.7L241.9,336.8L243.0,336.9L244.2,337.0L245.3,337.0L246.4,337.1L247.6,337.2L248.7,337.3L249.8,337.3L250.9,337.4L252.1,337.5L253.2,337.5L254.3,337.6L255.4,337.7L256.6,337.7L257.7,337.8L258.8,337.9L260.0,337.9L261.1,338.0L262.2,338.1L263.3,338.1L264.5,338.2L265.6,338.3L266.7,338.3L267.9,338.4L269.0,338.4L270.1,338.5L271.2,338.6L272.4,338.6L273.5,338.7L274.6,338.7L275.8,338.8L276.9,338.8L278.0,338.9L279.1,339.0L280.3,339.0L281.4,339.1L282.5,339.1L283.6,339.2L284.8,339.2L285.9,339.3L287.0,339.3L288.2,339.4L289.3,339.4L290.4,339.5L291.5,339.5L292.7,339.6L293.8,339.6L294.9,339.7L296.1,339.7L297.2,339.8L298.3,339.8L299.4,339.8L300.6,339.9L301.7,339.9L301.7,342.7L300.6,342.7L299.4,342.6L298.3,342.6L297.2,342.6L296.1,342.6L294.9,342.5L293.8,342.5L292.7,342.5L291.5,342.5L290.4,342.4L289.3,342.4L288.2,342.4L287.0,342.3L285.9,342.3L284.8,342.3L283.6,342.2L282.5,342.2L281.4,342.2L280.3,342.1L279.1,342.1L278.0,342.1L276.9,342.0L275.8,342.0L274.6,341.9L273.5,341.9L272.4,341.9L271.2,341.8L270.1,341.8L269.0,341.7L267.9,341.7L266.7,341.7L265.6,341.6L264.5,341.6L263.3,341.5L262.2,341.5L261.1,341.4L260.0,341.4L258.8,341.4L257.7,341.3L256.6,341.3L255.4,341.2L254.3,341.2L253.2,341.1L252.1,341.1L250.9,341.0L249.8,341.0L248.7,340.9L247.6,340.9L246.4,340.8L245.3,340.7L244.2,340.7L243.0,340.6L241.9,340.6L240.8,340.5L239.7,340.4L238.5,340.4L237.4,340.3L236.3,340.3L235.1,340.2L234.0,340.1L232.9,340.1L231.8,340.0L230.6,339.9L229.5,339.9L228.4,339.8L227.2,339.7L226.1,339.6L225.0,339.6L223.9,339.5L222.7,339.4L221.6,339.4L220.5,339.3L219.3,339.2L218.2,339.1L217.1,339.0L216.0,339.0L214.8,338.9L213.7,338.8L212.6,338.7L211.5,338.6L210.3,338.5L209.2,338.5L208.1,338.4L206.9,338.3L205.8,338.2L204.7,338.1L203.6,338.0L202.4,337.9L201.3,337.8L200.2,337.7L199.0,337.6L197.9,337.5L196.8,337.4L195.7,337.3L194.5,337.2L193.4,337.1Z" fill="#ee8fa2" fill-opacity="0.75" stroke="none"/>
<path d="M193.4,327.3L194.5,327.5L195.7,327.7L196.8,327.8L197.9,328.0L199.0,328.2L200.2,328.4L201.3,328.6L202.4,328.7L203.6,328.9L204.7,329.1L205.8,329.2L206.9,329.4L208.1,329.6L209.2,329.7L210.3,329.9L211.5,330.0L212.6,330.2L213.7,330.3L214.8,330.5L216.0,330.6L217.1,330.8L218.2,330.9L219.3,331.1L220.5,331.2L221.6,331.3L222.7,331.5L223.9,331.6L225.0,331.8L226.1,331.9L227.2,332.0L228.4,332.2L229.5,332.3L230.6,332.4L231.8,332.6L232.9,332.7L234.0,332.8L235.1,333.0L236.3,333.1L237.4,333.2L238.5,333.4L239.7,333.5L240.8,333.6L241.9,333.8L243.0,333.9L244.2,334.0L245.3,334.1L246.4,334.2L247.6,334.3L248.7,334.5L249.8,334.6L250.9,334.7L252.1,334.8L253.2,334.9L254.3,335.0L255.4,335.1L256.6,335.2L257.7,335.3L258.8,335.4L260.0,335.5L261.1,335.6L262.2,335.7L263.3,335.7L264.5,335.8L265.6,335.9L266.7,336.0L267.9,336.1L269.0,336.2L270.1,336.3L271.2,336.4L272.4,336.4L273.5,336.5L274.6,336.6L275.8,336.7L276.9,336.8L278.0,336.8L279.1,336.9L280.3,337.0L281.4,337.1L282.5,337.1L283.6,337.2L284.8,337.3L285.9,337.3L287.0,337.4L288.2,337.5L289.3,337.5L290.4,337.6L291.5,337.7L292.7,337.7L293.8,337.8L294.9,337.8L296.1,337.9L297.2,338.0L298.3,338.0L299.4,338.1L300.6,338.1L301.7,338.2L301.7,340.2L300.6,340.1L299.4,340.1L298.3,340.1L297.2,340.0L296.1,340.0L294.9,339.9L293.8,339.9L292.7,339.8L291.5,339.8L290.4,339.8L289.3,339.7L288.2,339.7L287.0,339.6L285.9,339.6L284.8,339.5L283.6,339.5L282.5,339.4L281.4,339.3L280.3,339.3L279.1,339.2L278.0,339.2L276.9,339.1L275.8,339.0L274.6,339.0L273.5,338.9L272.4,338.8L271.2,338.8L270.1,338.7L269.0,338.6L267.9,338.6L266.7,338.5L265.6,338.4L264.5,338.4L263.3,338.3L262.2,338.2L261.1,338.1L260.0,338.1L258.8,338.0L257.7,337.9L256.6,337.8L255.4,337.7L254.3,337.6L253.2,337.6L252.1,337.5L250.9,337.4L249.8,337.3L248.7,337.2L247.6,337.1L246.4,337.0L245.3,336.9L244.2,336.8L243.0,336.7L241.9,336.6L240.8,336.5L239.7,336.4L238.5,336.3L237.4,336.1L236.3,336.0L235.1,335.9L234.0,335.8L232.9,335.7L231.8,335.6L230.6,335.4L229.5,335.3L228.4,335.2L227.2,335.1L226.1,335.0L225.0,334.8L223.9,334.7L222.7,334.6L221.6,334.5L220.5,334.3L219.3,334.2L218.2,334.1L217.1,334.0L216.0,333.8L214.8,333.7L213.7,333.6L212.6,333.4L211.5,333.3L210.3,333.2L209.2,333.0L208.1,332.9L206.9,332.7L205.8,332.6L204.7,332.4L203.6,332.3L202.4,332.1L201.3,332.0L200.2,331.8L199.0,331.6L197.9,331.5L196.8,331.3L195.7,331.2L194.5,331.0L193.4,330.8Z" fill="#66c6f0" stroke="none"/>
<path d="M193.4,318.5L194.5,318.7L195.7,318.9L196.8,319.0L197.9,319.2L199.0,319.4L200.2,319.6L201.3,319.8L202.4,319.9L203.6,320.1L204.7,320.3L205.8,320.5L206.9,320.6L208.1,320.8L209.2,321.0L210.3,321.2L211.5,321.3L212.6,321.5L213.7,321.7L214.8,321.8L216.0,322.0L217.1,322.1L218.2,322.3L219.3,322.4L220.5,322.6L221.6,322.7L222.7,322.9L223.9,323.1L225.0,323.2L226.1,323.4L227.2,323.5L228.4,323.7L229.5,323.9L230.6,324.0L231.8,324.2L232.9,324.3L234.0,324.5L235.1,324.7L236.3,324.9L237.4,325.0L238.5,325.2L239.7,325.4L240.8,325.5L241.9,325.7L243.0,325.9L244.2,326.0L245.3,326.2L246.4,326.4L247.6,326.5L248.7,326.7L249.8,326.9L250.9,327.0L252.1,327.2L253.2,327.3L254.3,327.5L255.4,327.7L256.6,327.8L257.7,328.0L258.8,328.1L260.0,328.3L261.1,328.4L262.2,328.6L263.3,328.8L264.5,328.9L265.6,329.1L266.7,329.2L267.9,329.4L269.0,329.5L270.1,329.6L271.2,329.8L272.4,329.9L273.5,330.1L274.6,330.2L275.8,330.4L276.9,330.5L278.0,330.6L279.1,330.8L280.3,330.9L281.4,331.1L282.5,331.2L283.6,331.4L284.8,331.5L285.9,331.7L287.0,331.8L288.2,332.0L289.3,332.1L290.4,332.3L291.5,332.4L292.7,332.6L293.8,332.7L294.9,332.9L296.1,333.0L297.2,333.2L298.3,333.3L299.4,333.5L300.6,333.7L301.7,333.8" fill="none" stroke="#929292" stroke-width="0.9" stroke-dasharray="3 2" stroke-linejoin="round"/>
<path d="M193.4,329.1L194.5,329.2L195.7,329.4L196.8,329.6L197.9,329.8L199.0,329.9L200.2,330.1L201.3,330.3L202.4,330.4L203.6,330.6L204.7,330.7L205.8,330.9L206.9,331.1L208.1,331.2L209.2,331.4L210.3,331.5L211.5,331.7L212.6,331.8L213.7,332.0L214.8,332.1L216.0,332.2L217.1,332.4L218.2,332.5L219.3,332.6L220.5,332.8L221.6,332.9L222.7,333.0L223.9,333.2L225.0,333.3L226.1,333.4L227.2,333.6L228.4,333.7L229.5,333.8L230.6,333.9L231.8,334.1L232.9,334.2L234.0,334.3L235.1,334.4L236.3,334.6L237.4,334.7L238.5,334.8L239.7,334.9L240.8,335.1L241.9,335.2L243.0,335.3L244.2,335.4L245.3,335.5L246.4,335.6L247.6,335.7L248.7,335.8L249.8,335.9L250.9,336.0L252.1,336.1L253.2,336.2L254.3,336.3L255.4,336.4L256.6,336.5L257.7,336.6L258.8,336.7L260.0,336.8L261.1,336.8L262.2,336.9L263.3,337.0L264.5,337.1L265.6,337.2L266.7,337.3L267.9,337.3L269.0,337.4L270.1,337.5L271.2,337.6L272.4,337.6L273.5,337.7L274.6,337.8L275.8,337.9L276.9,337.9L278.0,338.0L279.1,338.1L280.3,338.1L281.4,338.2L282.5,338.3L283.6,338.3L284.8,338.4L285.9,338.4L287.0,338.5L288.2,338.6L289.3,338.6L290.4,338.7L291.5,338.7L292.7,338.8L293.8,338.8L294.9,338.9L296.1,338.9L297.2,339.0L298.3,339.0L299.4,339.1L300.6,339.1L301.7,339.2" fill="none" stroke="#1a86c8" stroke-width="1.0" stroke-dasharray="2.5 1 1 1" stroke-linejoin="round"/>
<path d="M193.4,334.8L194.5,334.9L195.7,335.0L196.8,335.1L197.9,335.3L199.0,335.4L200.2,335.5L201.3,335.6L202.4,335.7L203.6,335.8L204.7,335.9L205.8,336.0L206.9,336.1L208.1,336.2L209.2,336.3L210.3,336.4L211.5,336.5L212.6,336.6L213.7,336.7L214.8,336.8L216.0,336.9L217.1,336.9L218.2,337.0L219.3,337.1L220.5,337.2L221.6,337.3L222.7,337.4L223.9,337.5L225.0,337.5L226.1,337.6L227.2,337.7L228.4,337.8L229.5,337.9L230.6,337.9L231.8,338.0L232.9,338.1L234.0,338.2L235.1,338.3L236.3,338.3L237.4,338.4L238.5,338.5L239.7,338.5L240.8,338.6L241.9,338.7L243.0,338.8L244.2,338.8L245.3,338.9L246.4,339.0L247.6,339.0L248.7,339.1L249.8,339.1L250.9,339.2L252.1,339.3L253.2,339.3L254.3,339.4L255.4,339.4L256.6,339.5L257.7,339.6L258.8,339.6L260.0,339.7L261.1,339.7L262.2,339.8L263.3,339.8L264.5,339.9L265.6,339.9L266.7,340.0L267.9,340.0L269.0,340.1L270.1,340.1L271.2,340.2L272.4,340.2L273.5,340.3L274.6,340.3L275.8,340.4L276.9,340.4L278.0,340.5L279.1,340.5L280.3,340.6L281.4,340.6L282.5,340.7L283.6,340.7L284.8,340.7L285.9,340.8L287.0,340.8L288.2,340.9L289.3,340.9L290.4,340.9L291.5,341.0L292.7,341.0L293.8,341.1L294.9,341.1L296.1,341.1L297.2,341.2L298.3,341.2L299.4,341.2L300.6,341.3L301.7,341.3" fill="none" stroke="#cf1032" stroke-width="1.4" stroke-linejoin="round"/>
<rect x="192.00" y="320.15" width="2.8" height="2.8" fill="#b6b6bc"/>
<rect x="196.80" y="319.77" width="2.8" height="2.8" fill="#b6b6bc"/>
<rect x="201.46" y="319.39" width="2.8" height="2.8" fill="#b6b6bc"/>
<rect x="206.15" y="322.45" width="2.8" height="2.8" fill="#b6b6bc"/>
<rect x="210.95" y="328.20" width="2.8" height="2.8" fill="#b6b6bc"/>
<rect x="215.75" y="318.62" width="2.8" height="2.8" fill="#b6b6bc"/>
<rect x="221.10" y="323.22" width="2.8" height="2.8" fill="#b6b6bc"/>
<rect x="226.22" y="326.51" width="2.8" height="2.8" fill="#b6b6bc"/>
<rect x="231.39" y="329.34" width="2.8" height="2.8" fill="#b6b6bc"/>
<rect x="238.86" y="327.58" width="2.8" height="2.8" fill="#b6b6bc"/>
<rect x="244.34" y="328.58" width="2.8" height="2.8" fill="#b6b6bc"/>
<rect x="267.09" y="320.92" width="2.8" height="2.8" fill="#b6b6bc"/>
<circle cx="194.48" cy="333.04" r="1.35" fill="#1fa6e4" stroke="#000" stroke-width="0.9"/>
<circle cx="198.20" cy="325.23" r="1.35" fill="#1fa6e4" stroke="#000" stroke-width="0.9"/>
<circle cx="202.86" cy="329.82" r="1.35" fill="#1fa6e4" stroke="#000" stroke-width="0.9"/>
<circle cx="207.55" cy="330.36" r="1.35" fill="#1fa6e4" stroke="#000" stroke-width="0.9"/>
<circle cx="217.15" cy="330.74" r="1.35" fill="#1fa6e4" stroke="#000" stroke-width="0.9"/>
<circle cx="222.50" cy="335.95" r="1.35" fill="#1fa6e4" stroke="#000" stroke-width="0.9"/>
<circle cx="227.62" cy="337.10" r="1.35" fill="#1fa6e4" stroke="#000" stroke-width="0.9"/>
<circle cx="232.79" cy="334.80" r="1.35" fill="#1fa6e4" stroke="#000" stroke-width="0.9"/>
<circle cx="240.26" cy="339.40" r="1.35" fill="#1fa6e4" stroke="#000" stroke-width="0.9"/>
<circle cx="245.75" cy="338.33" r="1.35" fill="#1fa6e4" stroke="#000" stroke-width="0.9"/>
<circle cx="248.06" cy="338.33" r="1.35" fill="#1fa6e4" stroke="#000" stroke-width="0.9"/>
<circle cx="268.13" cy="334.57" r="1.35" fill="#1fa6e4" stroke="#000" stroke-width="0.9"/>
<path d="M190.60,265.60V344.40H305.40" fill="none" stroke="#222" stroke-width="1.25"/>
<path d="M187.80,343.00H190.6" stroke="#222" stroke-width="1"/>
<text x="185.20" y="346.30" font-size="9" fill="#3d3d3d" text-anchor="end" textLength="15.60" lengthAdjust="spacingAndGlyphs">0.00</text>
<path d="M187.80,323.85H190.6" stroke="#222" stroke-width="1"/>
<text x="185.20" y="327.15" font-size="9" fill="#3d3d3d" text-anchor="end" textLength="15.60" lengthAdjust="spacingAndGlyphs">0.25</text>
<path d="M187.80,304.70H190.6" stroke="#222" stroke-width="1"/>
<text x="185.20" y="308.00" font-size="9" fill="#3d3d3d" text-anchor="end" textLength="15.60" lengthAdjust="spacingAndGlyphs">0.50</text>
<path d="M187.80,285.55H190.6" stroke="#222" stroke-width="1"/>
<text x="185.20" y="288.85" font-size="9" fill="#3d3d3d" text-anchor="end" textLength="15.60" lengthAdjust="spacingAndGlyphs">0.75</text>
<path d="M187.80,266.40H190.6" stroke="#222" stroke-width="1"/>
<text x="185.20" y="269.70" font-size="9" fill="#3d3d3d" text-anchor="end" textLength="15.60" lengthAdjust="spacingAndGlyphs">1.00</text>
<path d="M193.40,344.40V347.20" stroke="#222" stroke-width="1"/>
<text x="194.00" y="356.80" font-size="9" fill="#3d3d3d" text-anchor="middle" textLength="5.00" lengthAdjust="spacingAndGlyphs">0</text>
<path d="M229.50,344.40V347.20" stroke="#222" stroke-width="1"/>
<text x="230.10" y="356.80" font-size="9" fill="#3d3d3d" text-anchor="middle" textLength="17.60" lengthAdjust="spacingAndGlyphs">1000</text>
<path d="M265.60,344.40V347.20" stroke="#222" stroke-width="1"/>
<text x="266.20" y="356.80" font-size="9" fill="#3d3d3d" text-anchor="middle" textLength="17.60" lengthAdjust="spacingAndGlyphs">2000</text>
<path d="M301.70,344.40V347.20" stroke="#222" stroke-width="1"/>
<text x="302.30" y="356.80" font-size="9" fill="#3d3d3d" text-anchor="middle" textLength="17.60" lengthAdjust="spacingAndGlyphs">3000</text>
<text x="247.60" y="367.00" font-size="9.8" fill="#3d3d3d" text-anchor="middle" textLength="37.50" lengthAdjust="spacingAndGlyphs">Time [days]</text>
<text x="0" y="0" font-size="10.4" fill="#3d3d3d" text-anchor="middle" textLength="16.5" lengthAdjust="spacingAndGlyphs" transform="translate(165.10,305.90) rotate(-90)">Ratio</text>
<text x="248.70" y="260.80" font-size="8.2" fill="#333" text-anchor="middle" textLength="35.40" lengthAdjust="spacingAndGlyphs">Patient #8</text>
<rect x="321.50" y="274.20" width="103.90" height="67.30" fill="#fff" stroke="#222" stroke-width="1.1"/>
<text x="341.20" y="283.20" font-size="8.2" fill="#111" font-style="italic" stroke="#111" stroke-width="0.15" textLength="17.4" lengthAdjust="spacingAndGlyphs">JAK2</text>
<text x="358.90" y="280.20" font-size="3.6" fill="#222" textLength="9.5" lengthAdjust="spacingAndGlyphs">V617F</text>
<path d="M340.60,284.60H368.20" stroke="#222" stroke-width="1"/>
<text x="341.10" y="292.50" font-size="8.0" fill="#111" textLength="25.50" lengthAdjust="spacingAndGlyphs" stroke="#111" stroke-width="0.15">- Data -</text>
<text x="341.10" y="299.90" font-size="8.0" fill="#111" textLength="80.40" lengthAdjust="spacingAndGlyphs" stroke="#111" stroke-width="0.15">Exp. het progenitors CF</text>
<text x="341.10" y="307.30" font-size="8.0" fill="#111" textLength="74.60" lengthAdjust="spacingAndGlyphs" stroke="#111" stroke-width="0.15">Exp. mature cells VAF</text>
<text x="341.10" y="314.70" font-size="8.0" fill="#111" textLength="30.50" lengthAdjust="spacingAndGlyphs" stroke="#111" stroke-width="0.15">- Model -</text>
<text x="341.10" y="322.70" font-size="8.0" fill="#111" textLength="40.10" lengthAdjust="spacingAndGlyphs" stroke="#111" stroke-width="0.15">Het HSC CF</text>
<text x="341.10" y="330.50" font-size="8.0" fill="#111" textLength="63.90" lengthAdjust="spacingAndGlyphs" stroke="#111" stroke-width="0.15">Het progenitors CF</text>
<text x="341.10" y="338.60" font-size="8.0" fill="#111" textLength="58.10" lengthAdjust="spacingAndGlyphs" stroke="#111" stroke-width="0.15">Mature cells VAF</text>
<circle cx="331.60" cy="298.20" r="1.5" fill="#1fa6e4" stroke="#000" stroke-width="1.0"/>
<rect x="329.95" y="303.55" width="3.3" height="3.3" fill="#b9b9b9"/>
<path d="M324.90,320.20H337.40" stroke="#cf1032" stroke-width="1.3"/>
<path d="M324.90,328.00H337.40" stroke="#1fa6e4" stroke-width="1.3" stroke-dasharray="3 1.5 1.2 1.5"/>
<path d="M324.90,335.20H337.40" stroke="#929292" stroke-width="1.0" stroke-dasharray="2.5 1.5"/>
<path d="M40.6,436.7L42.1,435.8L43.5,435.2L44.6,435.2L45.7,435.2L46.8,435.2L47.9,435.2L49.0,435.2L50.1,435.2L51.2,435.2L52.2,435.2L53.3,435.2L54.4,435.2L55.5,435.2L56.6,435.2L57.7,435.2L58.8,435.2L59.9,435.2L61.0,435.2L62.1,435.2L63.2,435.2L64.3,435.2L65.4,435.2L66.5,435.2L67.5,435.2L68.6,435.2L69.7,435.2L70.8,435.2L71.9,435.2L73.0,435.2L74.1,435.2L75.2,435.2L76.3,435.2L77.4,435.2L78.5,435.2L79.6,435.2L80.7,435.2L81.7,435.2L82.8,435.2L83.9,435.2L85.0,435.2L86.1,435.2L87.2,435.2L88.3,435.2L89.4,435.2L90.5,435.2L91.6,435.2L92.7,435.2L93.8,435.2L94.9,435.2L96.0,435.2L97.0,435.2L98.1,435.2L99.2,435.2L100.3,435.2L101.4,435.2L102.5,435.2L103.6,435.2L104.7,435.2L105.8,435.2L106.9,435.2L108.0,435.2L109.1,435.2L110.2,435.2L111.3,435.2L112.3,435.2L113.4,435.2L114.5,435.2L115.6,435.2L116.7,435.2L117.8,435.2L118.9,435.2L120.0,435.2L121.1,435.2L122.2,435.2L123.3,435.2L124.4,435.2L125.5,435.2L126.6,435.2L127.6,435.2L128.7,435.2L129.8,435.2L130.9,435.2L132.0,435.2L133.1,435.2L134.2,435.2L135.3,435.2L136.4,435.2L137.5,435.2L138.6,435.2L139.7,435.2L140.8,435.2L141.9,435.2L142.9,435.2L144.0,435.2L145.1,435.2L146.2,435.2L147.3,435.2L148.4,435.2L149.5,435.2" fill="none" stroke="#929292" stroke-width="0.9" stroke-dasharray="3 2" stroke-linejoin="round"/>
<path d="M40.6,410.7L41.7,410.2L42.9,409.8L44.0,409.4L45.1,409.0L46.3,408.6L47.4,408.2L48.5,407.8L49.7,407.5L50.8,407.1L51.9,406.8L53.0,406.5L54.1,406.2L55.2,405.9L56.4,405.6L57.5,405.3L58.6,405.1L59.7,404.8L60.8,404.6L61.9,404.3L63.0,404.1L64.1,403.8L65.2,403.6L66.3,403.3L67.4,403.1L68.5,402.8L69.6,402.6L70.7,402.4L71.8,402.2L72.9,402.0L74.0,401.8L75.1,401.7L76.2,401.5L77.3,401.4L78.4,401.2L79.4,401.1L80.5,401.0L81.6,400.8L82.7,400.7L83.8,400.6L84.9,400.5L86.0,400.4L87.1,400.3L88.2,400.2L89.2,400.1L90.3,400.0L91.4,400.0L92.5,399.9L93.6,399.8L94.7,399.7L95.8,399.6L96.9,399.6L98.0,399.5L99.0,399.4L100.1,399.4L101.2,399.3L102.3,399.2L103.4,399.2L104.5,399.1L105.6,399.0L106.7,399.0L107.8,398.9L108.8,398.9L109.9,398.8L111.1,398.8L112.2,398.7L113.3,398.7L114.4,398.6L115.6,398.6L116.7,398.5L117.8,398.5L119.0,398.4L120.1,398.4L121.2,398.4L122.3,398.3L123.5,398.3L124.6,398.2L125.7,398.2L126.8,398.2L128.0,398.1L129.1,398.1L130.2,398.1L131.3,398.0L132.5,398.0L133.6,398.0L134.8,398.0L135.9,397.9L137.0,397.9L138.2,397.9L139.3,397.9L140.4,397.8L141.6,397.8L142.7,397.8L143.8,397.8L145.0,397.7L146.1,397.7L147.2,397.7L148.4,397.7L149.5,397.7" fill="none" stroke="#f8a01c" stroke-width="2.6" stroke-linejoin="round"/>
<path d="M40.6,410.7L41.7,410.2L42.9,409.8L44.0,409.4L45.1,409.0L46.3,408.6L47.4,408.2L48.5,407.8L49.7,407.5L50.8,407.1L51.9,406.8L53.0,406.5L54.1,406.2L55.2,405.9L56.4,405.6L57.5,405.3L58.6,405.1L59.7,404.8L60.8,404.6L61.9,404.3L63.0,404.1L64.1,403.8L65.2,403.6L66.3,403.3L67.4,403.1L68.5,402.8L69.6,402.6L70.7,402.4L71.8,402.2L72.9,402.0L74.0,401.8L75.1,401.7L76.2,401.5L77.3,401.4L78.4,401.2L79.4,401.1L80.5,401.0L81.6,400.8L82.7,400.7L83.8,400.6L84.9,400.5L86.0,400.4L87.1,400.3L88.2,400.2L89.2,400.1L90.3,400.0L91.4,400.0L92.5,399.9L93.6,399.8L94.7,399.7L95.8,399.6L96.9,399.6L98.0,399.5L99.0,399.4L100.1,399.4L101.2,399.3L102.3,399.2L103.4,399.2L104.5,399.1L105.6,399.0L106.7,399.0L107.8,398.9L108.8,398.9L109.9,398.8L111.1,398.8L112.2,398.7L113.3,398.7L114.4,398.6L115.6,398.6L116.7,398.5L117.8,398.5L119.0,398.4L120.1,398.4L121.2,398.4L122.3,398.3L123.5,398.3L124.6,398.2L125.7,398.2L126.8,398.2L128.0,398.1L129.1,398.1L130.2,398.1L131.3,398.0L132.5,398.0L133.6,398.0L134.8,398.0L135.9,397.9L137.0,397.9L138.2,397.9L139.3,397.9L140.4,397.8L141.6,397.8L142.7,397.8L143.8,397.8L145.0,397.7L146.1,397.7L147.2,397.7L148.4,397.7L149.5,397.7" fill="none" stroke="#cf1032" stroke-width="1.0" stroke-dasharray="4 3" stroke-linejoin="round"/>
<rect x="39.82" y="430.35" width="2.8" height="2.8" fill="#b6b6bc"/>
<rect x="48.38" y="433.80" width="2.8" height="2.8" fill="#b6b6bc"/>
<rect x="52.99" y="433.80" width="2.8" height="2.8" fill="#b6b6bc"/>
<rect x="57.17" y="433.80" width="2.8" height="2.8" fill="#b6b6bc"/>
<rect x="61.71" y="433.80" width="2.8" height="2.8" fill="#b6b6bc"/>
<rect x="66.32" y="431.89" width="2.8" height="2.8" fill="#b6b6bc"/>
<rect x="71.69" y="430.74" width="2.8" height="2.8" fill="#b6b6bc"/>
<rect x="77.50" y="429.97" width="2.8" height="2.8" fill="#b6b6bc"/>
<rect x="82.07" y="432.27" width="2.8" height="2.8" fill="#b6b6bc"/>
<rect x="93.94" y="433.80" width="2.8" height="2.8" fill="#b6b6bc"/>
<rect x="100.91" y="433.80" width="2.8" height="2.8" fill="#b6b6bc"/>
<circle cx="41.22" cy="406.86" r="1.35" fill="#f8a01c" stroke="#000" stroke-width="0.9"/>
<circle cx="45.50" cy="408.77" r="1.35" fill="#f8a01c" stroke="#000" stroke-width="0.9"/>
<circle cx="49.78" cy="403.79" r="1.35" fill="#f8a01c" stroke="#000" stroke-width="0.9"/>
<circle cx="54.39" cy="410.69" r="1.35" fill="#f8a01c" stroke="#000" stroke-width="0.9"/>
<circle cx="58.57" cy="406.48" r="1.35" fill="#f8a01c" stroke="#000" stroke-width="0.9"/>
<circle cx="63.11" cy="409.16" r="1.35" fill="#f8a01c" stroke="#000" stroke-width="0.9"/>
<circle cx="67.72" cy="404.18" r="1.35" fill="#f8a01c" stroke="#000" stroke-width="0.9"/>
<circle cx="73.09" cy="407.62" r="1.35" fill="#f8a01c" stroke="#000" stroke-width="0.9"/>
<circle cx="78.90" cy="398.81" r="1.35" fill="#f8a01c" stroke="#000" stroke-width="0.9"/>
<circle cx="83.47" cy="402.03" r="1.35" fill="#f8a01c" stroke="#000" stroke-width="0.9"/>
<circle cx="89.97" cy="399.96" r="1.35" fill="#f8a01c" stroke="#000" stroke-width="0.9"/>
<circle cx="95.34" cy="397.21" r="1.35" fill="#f8a01c" stroke="#000" stroke-width="0.9"/>
<path d="M37.70,396.00V474.90H152.90" fill="none" stroke="#222" stroke-width="1.25"/>
<path d="M34.90,473.50H37.7" stroke="#222" stroke-width="1"/>
<text x="32.30" y="476.80" font-size="9" fill="#3d3d3d" text-anchor="end" textLength="15.60" lengthAdjust="spacingAndGlyphs">0.00</text>
<path d="M34.90,454.35H37.7" stroke="#222" stroke-width="1"/>
<text x="32.30" y="457.65" font-size="9" fill="#3d3d3d" text-anchor="end" textLength="15.60" lengthAdjust="spacingAndGlyphs">0.25</text>
<path d="M34.90,435.20H37.7" stroke="#222" stroke-width="1"/>
<text x="32.30" y="438.50" font-size="9" fill="#3d3d3d" text-anchor="end" textLength="15.60" lengthAdjust="spacingAndGlyphs">0.50</text>
<path d="M34.90,416.05H37.7" stroke="#222" stroke-width="1"/>
<text x="32.30" y="419.35" font-size="9" fill="#3d3d3d" text-anchor="end" textLength="15.60" lengthAdjust="spacingAndGlyphs">0.75</text>
<path d="M34.90,396.90H37.7" stroke="#222" stroke-width="1"/>
<text x="32.30" y="400.20" font-size="9" fill="#3d3d3d" text-anchor="end" textLength="15.60" lengthAdjust="spacingAndGlyphs">1.00</text>
<path d="M40.60,474.90V477.70" stroke="#222" stroke-width="1"/>
<text x="41.20" y="487.30" font-size="9" fill="#3d3d3d" text-anchor="middle" textLength="5.00" lengthAdjust="spacingAndGlyphs">0</text>
<path d="M76.90,474.90V477.70" stroke="#222" stroke-width="1"/>
<text x="77.50" y="487.30" font-size="9" fill="#3d3d3d" text-anchor="middle" textLength="17.60" lengthAdjust="spacingAndGlyphs">1000</text>
<path d="M113.20,474.90V477.70" stroke="#222" stroke-width="1"/>
<text x="113.80" y="487.30" font-size="9" fill="#3d3d3d" text-anchor="middle" textLength="17.60" lengthAdjust="spacingAndGlyphs">2000</text>
<path d="M149.50,474.90V477.70" stroke="#222" stroke-width="1"/>
<text x="150.10" y="487.30" font-size="9" fill="#3d3d3d" text-anchor="middle" textLength="17.60" lengthAdjust="spacingAndGlyphs">3000</text>
<text x="95.10" y="497.50" font-size="9.8" fill="#3d3d3d" text-anchor="middle" textLength="37.50" lengthAdjust="spacingAndGlyphs">Time [days]</text>
<text x="0" y="0" font-size="10.4" fill="#3d3d3d" text-anchor="middle" textLength="16.5" lengthAdjust="spacingAndGlyphs" transform="translate(14.00,436.40) rotate(-90)">Ratio</text>
<text x="96.00" y="391.20" font-size="8.2" fill="#333" text-anchor="middle" textLength="40.20" lengthAdjust="spacingAndGlyphs">Patient #40</text>
<path d="M193.6,450.1L194.7,450.2L195.9,450.2L197.0,450.3L198.1,450.4L199.3,450.5L200.4,450.6L201.6,450.7L202.7,450.7L203.8,450.8L205.0,450.9L206.1,451.0L207.2,451.1L208.4,451.1L209.5,451.2L210.6,451.3L211.8,451.4L212.9,451.4L214.1,451.5L215.2,451.6L216.3,451.7L217.5,451.8L218.6,451.8L219.7,451.9L220.9,452.0L222.0,452.1L223.1,452.1L224.3,452.2L225.4,452.3L226.6,452.4L227.7,452.4L228.8,452.5L230.0,452.6L231.1,452.6L232.2,452.7L233.4,452.8L234.5,452.9L235.6,452.9L236.8,453.0L237.9,453.1L239.1,453.1L240.2,453.2L241.3,453.3L242.5,453.3L243.6,453.4L244.7,453.5L245.9,453.5L247.0,453.6L248.1,453.7L249.3,453.7L250.4,453.8L251.6,453.9L252.7,453.9L253.8,454.0L255.0,454.1L256.1,454.1L257.2,454.2L258.4,454.3L259.5,454.3L260.6,454.4L261.8,454.4L262.9,454.5L264.1,454.6L265.2,454.6L266.3,454.7L267.5,454.8L268.6,454.8L269.7,454.9L270.9,454.9L272.0,455.0L273.1,455.0L274.3,455.1L275.4,455.2L276.6,455.2L277.7,455.3L278.8,455.3L280.0,455.4L281.1,455.4L282.2,455.5L283.4,455.6L284.5,455.6L285.6,455.7L286.8,455.7L287.9,455.8L289.1,455.8L290.2,455.9L291.3,455.9L292.5,456.0L293.6,456.0L294.7,456.1L295.9,456.1L297.0,456.2L298.1,456.2L299.3,456.3L300.4,456.4L301.6,456.4L302.7,456.5L303.8,456.5L305.0,456.5L306.1,456.6L306.1,463.1L305.0,463.1L303.8,463.0L302.7,462.9L301.6,462.9L300.4,462.8L299.3,462.8L298.1,462.7L297.0,462.6L295.9,462.6L294.7,462.5L293.6,462.5L292.5,462.4L291.3,462.3L290.2,462.3L289.1,462.2L287.9,462.1L286.8,462.1L285.6,462.0L284.5,462.0L283.4,461.9L282.2,461.8L281.1,461.8L280.0,461.7L278.8,461.6L277.7,461.6L276.6,461.5L275.4,461.4L274.3,461.4L273.1,461.3L272.0,461.2L270.9,461.2L269.7,461.1L268.6,461.0L267.5,461.0L266.3,460.9L265.2,460.8L264.1,460.7L262.9,460.7L261.8,460.6L260.6,460.5L259.5,460.5L258.4,460.4L257.2,460.3L256.1,460.2L255.0,460.2L253.8,460.1L252.7,460.0L251.6,459.9L250.4,459.9L249.3,459.8L248.1,459.7L247.0,459.6L245.9,459.6L244.7,459.5L243.6,459.4L242.5,459.3L241.3,459.3L240.2,459.2L239.1,459.1L237.9,459.0L236.8,458.9L235.6,458.9L234.5,458.8L233.4,458.7L232.2,458.6L231.1,458.5L230.0,458.5L228.8,458.4L227.7,458.3L226.6,458.2L225.4,458.1L224.3,458.0L223.1,458.0L222.0,457.9L220.9,457.8L219.7,457.7L218.6,457.6L217.5,457.5L216.3,457.5L215.2,457.4L214.1,457.3L212.9,457.2L211.8,457.1L210.6,457.0L209.5,456.9L208.4,456.8L207.2,456.8L206.1,456.7L205.0,456.6L203.8,456.5L202.7,456.4L201.6,456.3L200.4,456.2L199.3,456.1L198.1,456.0L197.0,455.9L195.9,455.9L194.7,455.8L193.6,455.7Z" fill="#dfdfe3" stroke="none"/>
<path d="M193.6,457.4L194.7,457.5L195.9,457.6L197.0,457.7L198.1,457.8L199.3,457.9L200.4,458.0L201.6,458.1L202.7,458.2L203.8,458.3L205.0,458.4L206.1,458.5L207.2,458.6L208.4,458.7L209.5,458.8L210.7,458.9L211.8,459.0L212.9,459.1L214.1,459.2L215.2,459.3L216.3,459.4L217.5,459.5L218.6,459.6L219.8,459.6L220.9,459.7L222.0,459.8L223.2,459.9L224.3,460.0L225.4,460.1L226.6,460.2L227.7,460.3L228.8,460.4L230.0,460.5L231.1,460.5L232.3,460.6L233.4,460.7L234.5,460.8L235.7,460.9L236.8,461.0L237.9,461.0L239.1,461.1L240.2,461.2L241.4,461.3L242.5,461.4L243.6,461.5L244.8,461.5L245.9,461.6L247.0,461.7L248.2,461.8L249.3,461.8L250.4,461.9L251.6,462.0L252.7,462.1L253.9,462.1L255.0,462.2L256.1,462.3L257.3,462.3L258.4,462.4L259.5,462.5L260.7,462.6L261.8,462.6L262.9,462.7L264.1,462.8L265.2,462.8L266.4,462.9L267.5,463.0L268.6,463.0L269.8,463.1L270.9,463.2L272.0,463.2L273.2,463.3L274.3,463.4L275.4,463.4L276.6,463.5L277.7,463.6L278.8,463.6L280.0,463.7L281.1,463.8L282.2,463.8L283.4,463.9L284.5,463.9L285.7,464.0L286.8,464.1L287.9,464.1L289.1,464.2L290.2,464.2L291.3,464.3L292.5,464.3L293.6,464.4L294.7,464.5L295.9,464.5L297.0,464.6L298.1,464.6L299.3,464.7L300.4,464.7L301.6,464.8L302.7,464.8L303.8,464.9L305.0,464.9L306.1,465.0L306.1,470.3L305.0,470.2L303.8,470.1L302.7,470.1L301.6,470.0L300.4,469.9L299.3,469.9L298.1,469.8L297.0,469.7L295.9,469.7L294.7,469.6L293.6,469.5L292.5,469.5L291.3,469.4L290.2,469.3L289.1,469.2L287.9,469.2L286.8,469.1L285.7,469.0L284.5,468.9L283.4,468.9L282.2,468.8L281.1,468.7L280.0,468.6L278.8,468.6L277.7,468.5L276.6,468.4L275.4,468.3L274.3,468.3L273.2,468.2L272.0,468.1L270.9,468.0L269.8,467.9L268.6,467.9L267.5,467.8L266.4,467.7L265.2,467.6L264.1,467.5L262.9,467.4L261.8,467.4L260.7,467.3L259.5,467.2L258.4,467.1L257.3,467.0L256.1,466.9L255.0,466.8L253.9,466.8L252.7,466.7L251.6,466.6L250.4,466.5L249.3,466.4L248.2,466.3L247.0,466.2L245.9,466.1L244.8,466.0L243.6,465.9L242.5,465.9L241.4,465.8L240.2,465.7L239.1,465.6L237.9,465.5L236.8,465.4L235.7,465.3L234.5,465.2L233.4,465.1L232.3,465.0L231.1,464.9L230.0,464.8L228.8,464.7L227.7,464.6L226.6,464.5L225.4,464.4L224.3,464.3L223.2,464.2L222.0,464.1L220.9,464.0L219.8,463.9L218.6,463.7L217.5,463.6L216.3,463.5L215.2,463.4L214.1,463.3L212.9,463.2L211.8,463.1L210.7,463.0L209.5,462.9L208.4,462.8L207.2,462.6L206.1,462.5L205.0,462.4L203.8,462.3L202.7,462.2L201.6,462.1L200.4,462.0L199.3,461.8L198.1,461.7L197.0,461.6L195.9,461.5L194.7,461.4L193.6,461.3Z" fill="#fab045" stroke="none"/>
<path d="M193.6,452.9L194.7,453.0L195.9,453.0L197.0,453.1L198.1,453.2L199.3,453.3L200.4,453.4L201.6,453.5L202.7,453.6L203.8,453.7L205.0,453.7L206.1,453.8L207.2,453.9L208.4,454.0L209.5,454.1L210.6,454.2L211.8,454.2L212.9,454.3L214.1,454.4L215.2,454.5L216.3,454.6L217.5,454.6L218.6,454.7L219.7,454.8L220.9,454.9L222.0,455.0L223.1,455.0L224.3,455.1L225.4,455.2L226.6,455.3L227.7,455.4L228.8,455.4L230.0,455.5L231.1,455.6L232.2,455.7L233.4,455.7L234.5,455.8L235.6,455.9L236.8,456.0L237.9,456.0L239.1,456.1L240.2,456.2L241.3,456.3L242.5,456.3L243.6,456.4L244.7,456.5L245.9,456.6L247.0,456.6L248.1,456.7L249.3,456.8L250.4,456.8L251.6,456.9L252.7,457.0L253.8,457.0L255.0,457.1L256.1,457.2L257.2,457.3L258.4,457.3L259.5,457.4L260.6,457.5L261.8,457.5L262.9,457.6L264.1,457.7L265.2,457.7L266.3,457.8L267.5,457.9L268.6,457.9L269.7,458.0L270.9,458.0L272.0,458.1L273.1,458.2L274.3,458.2L275.4,458.3L276.6,458.4L277.7,458.4L278.8,458.5L280.0,458.5L281.1,458.6L282.2,458.7L283.4,458.7L284.5,458.8L285.6,458.8L286.8,458.9L287.9,459.0L289.1,459.0L290.2,459.1L291.3,459.1L292.5,459.2L293.6,459.3L294.7,459.3L295.9,459.4L297.0,459.4L298.1,459.5L299.3,459.5L300.4,459.6L301.6,459.6L302.7,459.7L303.8,459.7L305.0,459.8L306.1,459.9" fill="none" stroke="#929292" stroke-width="0.9" stroke-dasharray="3 2" stroke-linejoin="round"/>
<path d="M193.6,459.3L194.7,459.4L195.9,459.5L197.0,459.6L198.1,459.8L199.3,459.9L200.4,460.0L201.6,460.1L202.7,460.2L203.8,460.3L205.0,460.4L206.1,460.5L207.2,460.6L208.4,460.7L209.5,460.8L210.7,460.9L211.8,461.0L212.9,461.1L214.1,461.2L215.2,461.3L216.3,461.4L217.5,461.5L218.6,461.7L219.8,461.8L220.9,461.8L222.0,461.9L223.2,462.0L224.3,462.1L225.4,462.2L226.6,462.3L227.7,462.4L228.8,462.5L230.0,462.6L231.1,462.7L232.3,462.8L233.4,462.9L234.5,463.0L235.7,463.1L236.8,463.2L237.9,463.3L239.1,463.4L240.2,463.4L241.4,463.5L242.5,463.6L243.6,463.7L244.8,463.8L245.9,463.9L247.0,464.0L248.2,464.0L249.3,464.1L250.4,464.2L251.6,464.3L252.7,464.4L253.9,464.4L255.0,464.5L256.1,464.6L257.3,464.7L258.4,464.8L259.5,464.8L260.7,464.9L261.8,465.0L262.9,465.1L264.1,465.1L265.2,465.2L266.4,465.3L267.5,465.4L268.6,465.4L269.8,465.5L270.9,465.6L272.0,465.7L273.2,465.7L274.3,465.8L275.4,465.9L276.6,466.0L277.7,466.0L278.8,466.1L280.0,466.2L281.1,466.2L282.2,466.3L283.4,466.4L284.5,466.4L285.7,466.5L286.8,466.6L287.9,466.6L289.1,466.7L290.2,466.8L291.3,466.8L292.5,466.9L293.6,467.0L294.7,467.0L295.9,467.1L297.0,467.1L298.1,467.2L299.3,467.3L300.4,467.3L301.6,467.4L302.7,467.4L303.8,467.5L305.0,467.6L306.1,467.6" fill="none" stroke="#cf1032" stroke-width="1.3" stroke-dasharray="3 2" stroke-linejoin="round"/>
<rect x="193.70" y="439.83" width="2.8" height="2.8" fill="#b6b6bc"/>
<rect x="196.32" y="452.25" width="2.8" height="2.8" fill="#b6b6bc"/>
<rect x="201.84" y="457.29" width="2.8" height="2.8" fill="#b6b6bc"/>
<rect x="207.72" y="453.02" width="2.8" height="2.8" fill="#b6b6bc"/>
<rect x="212.82" y="456.13" width="2.8" height="2.8" fill="#b6b6bc"/>
<rect x="218.64" y="453.80" width="2.8" height="2.8" fill="#b6b6bc"/>
<rect x="224.82" y="451.70" width="2.8" height="2.8" fill="#b6b6bc"/>
<rect x="229.70" y="454.58" width="2.8" height="2.8" fill="#b6b6bc"/>
<rect x="234.95" y="451.70" width="2.8" height="2.8" fill="#b6b6bc"/>
<rect x="239.07" y="450.70" width="2.8" height="2.8" fill="#b6b6bc"/>
<rect x="251.82" y="454.81" width="2.8" height="2.8" fill="#b6b6bc"/>
<rect x="257.08" y="456.90" width="2.8" height="2.8" fill="#b6b6bc"/>
<circle cx="198.40" cy="464.12" r="1.35" fill="#f8a01c" stroke="#000" stroke-width="0.9"/>
<circle cx="199.97" cy="462.96" r="1.35" fill="#f8a01c" stroke="#000" stroke-width="0.9"/>
<circle cx="203.24" cy="463.35" r="1.35" fill="#f8a01c" stroke="#000" stroke-width="0.9"/>
<circle cx="209.12" cy="461.02" r="1.35" fill="#f8a01c" stroke="#000" stroke-width="0.9"/>
<circle cx="220.04" cy="461.02" r="1.35" fill="#f8a01c" stroke="#000" stroke-width="0.9"/>
<circle cx="226.97" cy="463.35" r="1.35" fill="#f8a01c" stroke="#000" stroke-width="0.9"/>
<circle cx="231.10" cy="465.68" r="1.35" fill="#f8a01c" stroke="#000" stroke-width="0.9"/>
<circle cx="236.35" cy="458.69" r="1.35" fill="#f8a01c" stroke="#000" stroke-width="0.9"/>
<circle cx="240.47" cy="459.86" r="1.35" fill="#f8a01c" stroke="#000" stroke-width="0.9"/>
<circle cx="253.22" cy="463.35" r="1.35" fill="#f8a01c" stroke="#000" stroke-width="0.9"/>
<circle cx="258.48" cy="471.50" r="1.35" fill="#f8a01c" stroke="#000" stroke-width="0.9"/>
<path d="M190.30,396.50V475.70H309.40" fill="none" stroke="#222" stroke-width="1.25"/>
<path d="M187.50,474.60H190.3" stroke="#222" stroke-width="1"/>
<text x="184.90" y="477.90" font-size="9" fill="#3d3d3d" text-anchor="end" textLength="15.60" lengthAdjust="spacingAndGlyphs">0.00</text>
<path d="M187.50,455.20H190.3" stroke="#222" stroke-width="1"/>
<text x="184.90" y="458.50" font-size="9" fill="#3d3d3d" text-anchor="end" textLength="15.60" lengthAdjust="spacingAndGlyphs">0.25</text>
<path d="M187.50,435.80H190.3" stroke="#222" stroke-width="1"/>
<text x="184.90" y="439.10" font-size="9" fill="#3d3d3d" text-anchor="end" textLength="15.60" lengthAdjust="spacingAndGlyphs">0.50</text>
<path d="M187.50,416.40H190.3" stroke="#222" stroke-width="1"/>
<text x="184.90" y="419.70" font-size="9" fill="#3d3d3d" text-anchor="end" textLength="15.60" lengthAdjust="spacingAndGlyphs">0.75</text>
<path d="M187.50,397.00H190.3" stroke="#222" stroke-width="1"/>
<text x="184.90" y="400.30" font-size="9" fill="#3d3d3d" text-anchor="end" textLength="15.60" lengthAdjust="spacingAndGlyphs">1.00</text>
<path d="M193.60,475.70V478.50" stroke="#222" stroke-width="1"/>
<text x="194.20" y="488.10" font-size="9" fill="#3d3d3d" text-anchor="middle" textLength="5.00" lengthAdjust="spacingAndGlyphs">0</text>
<path d="M231.10,475.70V478.50" stroke="#222" stroke-width="1"/>
<text x="231.70" y="488.10" font-size="9" fill="#3d3d3d" text-anchor="middle" textLength="17.60" lengthAdjust="spacingAndGlyphs">1000</text>
<path d="M268.60,475.70V478.50" stroke="#222" stroke-width="1"/>
<text x="269.20" y="488.10" font-size="9" fill="#3d3d3d" text-anchor="middle" textLength="17.60" lengthAdjust="spacingAndGlyphs">2000</text>
<path d="M306.10,475.70V478.50" stroke="#222" stroke-width="1"/>
<text x="306.70" y="488.10" font-size="9" fill="#3d3d3d" text-anchor="middle" textLength="17.60" lengthAdjust="spacingAndGlyphs">3000</text>
<text x="247.60" y="498.30" font-size="9.8" fill="#3d3d3d" text-anchor="middle" textLength="37.50" lengthAdjust="spacingAndGlyphs">Time [days]</text>
<text x="0" y="0" font-size="10.4" fill="#3d3d3d" text-anchor="middle" textLength="16.5" lengthAdjust="spacingAndGlyphs" transform="translate(165.10,436.90) rotate(-90)">Ratio</text>
<text x="250.40" y="390.90" font-size="8.2" fill="#333" text-anchor="middle" textLength="40.00" lengthAdjust="spacingAndGlyphs">Patient #33</text>
<rect x="320.40" y="396.50" width="102.20" height="69.30" fill="#fff" stroke="#222" stroke-width="1.1"/>
<text x="338.20" y="407.10" font-size="8.2" fill="#111" font-style="italic" stroke="#111" stroke-width="0.15" textLength="18.2" lengthAdjust="spacingAndGlyphs">CALR</text>
<text x="356.70" y="404.10" font-size="3.6" fill="#222" textLength="3.0" lengthAdjust="spacingAndGlyphs">mut</text>
<path d="M337.30,408.30H356.00" stroke="#222" stroke-width="1"/>
<text x="338.80" y="416.10" font-size="8.0" fill="#111" textLength="25.50" lengthAdjust="spacingAndGlyphs" stroke="#111" stroke-width="0.15">- Data -</text>
<text x="338.80" y="423.30" font-size="8.0" fill="#111" textLength="81.50" lengthAdjust="spacingAndGlyphs" stroke="#111" stroke-width="0.15">Exp. het progenitors CF</text>
<text x="338.80" y="430.80" font-size="8.0" fill="#111" textLength="74.60" lengthAdjust="spacingAndGlyphs" stroke="#111" stroke-width="0.15">Exp. mature cells VAF</text>
<text x="338.80" y="437.90" font-size="8.0" fill="#111" textLength="30.50" lengthAdjust="spacingAndGlyphs" stroke="#111" stroke-width="0.15">- Model -</text>
<text x="338.80" y="446.60" font-size="8.0" fill="#111" textLength="40.40" lengthAdjust="spacingAndGlyphs" stroke="#111" stroke-width="0.15">Het HSC CF</text>
<text x="338.80" y="454.10" font-size="8.0" fill="#111" textLength="64.70" lengthAdjust="spacingAndGlyphs" stroke="#111" stroke-width="0.15">Het progenitors CF</text>
<text x="338.80" y="462.00" font-size="8.0" fill="#111" textLength="58.40" lengthAdjust="spacingAndGlyphs" stroke="#111" stroke-width="0.15">Mature cells VAF</text>
<circle cx="330.00" cy="421.60" r="1.5" fill="#f8a01c" stroke="#000" stroke-width="1.0"/>
<rect x="328.35" y="427.05" width="3.3" height="3.3" fill="#b9b9b9"/>
<path d="M322.70,444.40H334.90" stroke="#cf1032" stroke-width="1.3"/>
<path d="M322.70,451.90H334.90" stroke="#f8a01c" stroke-width="1.3" stroke-dasharray="3 1.5 1.2 1.5"/>
<path d="M322.70,459.30H334.90" stroke="#929292" stroke-width="1.0" stroke-dasharray="2.5 1.5"/>
<path d="M44.8,565.6L45.6,565.6L46.5,565.6L47.4,565.8L48.3,566.1L49.1,566.5L50.0,566.9L50.9,567.4L51.7,567.8L52.6,568.2L53.5,568.6L54.4,569.0L55.2,569.4L56.1,569.8L57.0,570.3L57.8,570.7L58.7,571.2L59.6,571.6L60.5,572.2L61.3,572.7L62.2,573.3L63.1,574.0L63.9,574.6L64.8,575.3L65.7,575.9L66.5,576.5L67.4,577.1L68.3,577.6L69.2,578.2L70.0,578.7L70.9,579.2L71.8,579.7L72.6,580.2L73.5,580.7L74.4,581.2L75.3,581.8L76.1,582.3L77.0,582.8L77.9,583.4L78.7,583.9L79.6,584.4L80.5,584.9L81.4,585.5L82.2,586.0L83.1,586.4L84.0,586.9L84.8,587.4L85.7,587.8L86.6,588.3L87.5,588.7L88.3,589.1L89.2,589.5L90.1,590.0L90.9,590.4L91.8,590.8L92.7,591.3L93.6,591.7L94.4,592.2L95.3,592.6L96.2,593.0L97.0,593.3L97.9,593.7L98.8,594.0L99.7,594.3L100.5,594.5L101.4,594.8L102.3,595.0L103.1,595.2L104.0,595.4L104.9,595.6L105.8,595.8L106.6,596.0L107.5,596.2L108.4,596.4L109.2,596.6L110.1,596.7L111.0,596.9L111.8,597.1L112.7,597.2L113.6,597.3L114.5,597.5L115.3,597.6L116.2,597.7L117.1,597.7L117.9,597.8L118.8,597.9L119.7,597.9L120.6,598.0L121.4,598.0L122.3,598.1L123.2,598.1L124.0,598.2L124.9,598.2L125.8,598.3L126.7,598.3L127.5,598.4L128.4,598.4L129.3,598.4L130.1,598.5L131.0,598.5L131.9,598.5L132.8,598.5L133.6,598.6L134.5,598.6L135.4,598.6L136.2,598.6L137.1,598.6L138.0,598.7L138.9,598.7L139.7,598.7L140.6,598.7L141.5,598.7L142.3,598.8L143.2,598.8L144.1,598.8L145.0,598.8L145.8,598.8L146.7,598.8L147.6,598.8L148.4,598.9L149.3,598.9L149.3,599.8L148.4,599.8L147.6,599.8L146.7,599.8L145.8,599.8L145.0,599.8L144.1,599.8L143.2,599.8L142.3,599.8L141.5,599.8L140.6,599.8L139.7,599.8L138.9,599.8L138.0,599.8L137.1,599.8L136.2,599.8L135.4,599.8L134.5,599.8L133.6,599.8L132.8,599.8L131.9,599.8L131.0,599.8L130.1,599.8L129.3,599.8L128.4,599.8L127.5,599.8L126.7,599.8L125.8,599.8L124.9,599.8L124.0,599.8L123.2,599.8L122.3,599.8L121.4,599.8L120.6,599.8L119.7,599.8L118.8,599.8L117.9,599.8L117.1,599.8L116.2,599.8L115.3,599.8L114.5,599.8L113.6,599.7L112.7,599.6L111.8,599.6L111.0,599.5L110.1,599.4L109.2,599.3L108.4,599.1L107.5,599.0L106.6,598.9L105.8,598.7L104.9,598.5L104.0,598.3L103.1,598.2L102.3,598.0L101.4,597.8L100.5,597.6L99.7,597.4L98.8,597.2L97.9,597.0L97.0,596.8L96.2,596.5L95.3,596.3L94.4,596.0L93.6,595.7L92.7,595.4L91.8,595.1L90.9,594.7L90.1,594.3L89.2,593.9L88.3,593.4L87.5,593.0L86.6,592.5L85.7,592.1L84.8,591.7L84.0,591.3L83.1,590.8L82.2,590.4L81.4,590.0L80.5,589.5L79.6,589.1L78.7,588.6L77.9,588.1L77.0,587.6L76.1,587.1L75.3,586.6L74.4,586.1L73.5,585.6L72.6,585.0L71.8,584.5L70.9,584.0L70.0,583.4L69.2,582.9L68.3,582.4L67.4,581.9L66.5,581.4L65.7,580.9L64.8,580.4L63.9,579.8L63.1,579.3L62.2,578.7L61.3,578.2L60.5,577.5L59.6,576.9L58.7,576.2L57.8,575.6L57.0,575.0L56.1,574.4L55.2,573.8L54.4,573.3L53.5,572.8L52.6,572.4L51.7,572.0L50.9,571.6L50.0,571.2L49.1,570.8L48.3,570.4L47.4,569.9L46.5,569.5L45.6,569.1L44.8,568.7Z" fill="#dfdfe3" stroke="none"/>
<path d="M43.5,545.1L44.4,545.1L45.3,545.1L46.1,545.1L47.0,545.1L47.9,545.4L48.8,545.9L49.7,546.8L50.6,547.9L51.4,548.9L52.3,549.9L53.2,550.8L54.1,551.8L55.0,552.8L55.8,553.8L56.7,554.7L57.6,555.7L58.5,556.6L59.4,557.6L60.3,558.6L61.1,559.5L62.0,560.5L62.9,561.5L63.8,562.4L64.7,563.4L65.5,564.4L66.4,565.4L67.3,566.3L68.2,567.3L69.1,568.3L70.0,569.3L70.8,570.3L71.7,571.3L72.6,572.3L73.5,573.4L74.4,574.4L75.2,575.3L76.1,576.3L77.0,577.2L77.9,578.1L78.8,579.0L79.7,579.8L80.5,580.6L81.4,581.4L82.3,582.2L83.2,583.0L84.1,583.7L84.9,584.4L85.8,585.1L86.7,585.8L87.6,586.4L88.5,587.0L89.4,587.6L90.2,588.2L91.1,588.7L92.0,589.2L92.9,589.7L93.8,590.2L94.6,590.7L95.5,591.1L96.4,591.6L97.3,592.0L98.2,592.3L99.1,592.7L99.9,593.1L100.8,593.5L101.7,593.8L102.6,594.1L103.5,594.5L104.3,594.8L105.2,595.1L106.1,595.3L107.0,595.6L107.9,595.8L108.7,596.1L109.6,596.3L110.5,596.5L111.4,596.7L112.3,596.9L113.2,597.1L114.0,597.3L114.9,597.5L115.8,597.6L116.7,597.8L117.6,597.9L118.4,598.0L119.3,598.1L120.2,598.1L121.1,598.2L122.0,598.3L122.9,598.3L123.7,598.4L124.6,598.4L125.5,598.5L126.4,598.5L127.3,598.6L128.1,598.6L129.0,598.6L129.9,598.7L130.8,598.7L131.7,598.7L132.6,598.8L133.4,598.8L134.3,598.8L135.2,598.8L136.1,598.9L137.0,598.9L137.8,598.9L138.7,598.9L139.6,599.0L140.5,599.0L141.4,599.0L142.3,599.0L143.1,599.0L144.0,599.1L144.9,599.1L145.8,599.1L146.7,599.1L147.5,599.1L148.4,599.1L149.3,599.2L149.3,599.8L148.4,599.8L147.5,599.8L146.7,599.8L145.8,599.8L144.9,599.8L144.0,599.8L143.1,599.8L142.3,599.8L141.4,599.8L140.5,599.8L139.6,599.8L138.7,599.8L137.8,599.8L137.0,599.8L136.1,599.8L135.2,599.8L134.3,599.8L133.4,599.8L132.6,599.8L131.7,599.8L130.8,599.8L129.9,599.8L129.0,599.8L128.1,599.8L127.3,599.8L126.4,599.8L125.5,599.8L124.6,599.7L123.7,599.7L122.9,599.7L122.0,599.6L121.1,599.6L120.2,599.5L119.3,599.5L118.4,599.4L117.6,599.4L116.7,599.3L115.8,599.3L114.9,599.2L114.0,599.1L113.2,599.0L112.3,598.9L111.4,598.8L110.5,598.7L109.6,598.5L108.7,598.3L107.9,598.1L107.0,597.9L106.1,597.7L105.2,597.5L104.3,597.3L103.5,597.0L102.6,596.8L101.7,596.6L100.8,596.3L99.9,596.0L99.1,595.7L98.2,595.4L97.3,595.1L96.4,594.7L95.5,594.4L94.6,594.0L93.8,593.7L92.9,593.3L92.0,592.9L91.1,592.5L90.2,592.0L89.4,591.6L88.5,591.1L87.6,590.6L86.7,590.1L85.8,589.6L84.9,589.0L84.1,588.5L83.2,587.9L82.3,587.3L81.4,586.6L80.5,585.9L79.7,585.2L78.8,584.5L77.9,583.7L77.0,583.0L76.1,582.2L75.2,581.4L74.4,580.5L73.5,579.7L72.6,578.8L71.7,577.9L70.8,577.0L70.0,576.0L69.1,575.0L68.2,574.0L67.3,573.0L66.4,572.0L65.5,571.0L64.7,570.0L63.8,569.0L62.9,568.0L62.0,567.0L61.1,566.1L60.3,565.1L59.4,564.1L58.5,563.1L57.6,562.2L56.7,561.2L55.8,560.2L55.0,559.3L54.1,558.3L53.2,557.3L52.3,556.4L51.4,555.4L50.6,554.4L49.7,553.5L48.8,552.5L47.9,551.5L47.0,550.5L46.1,549.6L45.3,548.6L44.4,547.6L43.5,546.6Z" fill="#ee8fa2" fill-opacity="0.75" stroke="none"/>
<path d="M43.2,540.2L44.1,540.2L45.0,540.3L45.9,540.5L46.8,540.9L47.6,541.4L48.5,541.8L49.4,542.3L50.3,542.8L51.2,543.4L52.1,544.0L52.9,544.6L53.8,545.4L54.7,546.1L55.6,546.9L56.5,547.8L57.4,548.7L58.2,549.6L59.1,550.7L60.0,551.8L60.9,553.0L61.8,554.4L62.7,555.8L63.6,557.2L64.4,558.6L65.3,560.0L66.2,561.3L67.1,562.5L68.0,563.7L68.9,564.9L69.7,566.1L70.6,567.3L71.5,568.5L72.4,569.8L73.3,571.2L74.2,572.6L75.0,573.9L75.9,575.1L76.8,576.2L77.7,577.2L78.6,578.2L79.5,579.2L80.4,580.1L81.2,581.0L82.1,581.8L83.0,582.7L83.9,583.4L84.8,584.2L85.7,584.9L86.5,585.6L87.4,586.3L88.3,586.9L89.2,587.6L90.1,588.2L91.0,588.8L91.8,589.4L92.7,589.9L93.6,590.5L94.5,591.0L95.4,591.5L96.3,592.0L97.1,592.4L98.0,592.8L98.9,593.2L99.8,593.5L100.7,593.9L101.6,594.2L102.5,594.5L103.3,594.8L104.2,595.0L105.1,595.3L106.0,595.5L106.9,595.7L107.8,595.9L108.6,596.1L109.5,596.3L110.4,596.5L111.3,596.7L112.2,596.8L113.1,597.0L113.9,597.1L114.8,597.2L115.7,597.3L116.6,597.4L117.5,597.5L118.4,597.6L119.3,597.6L120.1,597.7L121.0,597.8L121.9,597.8L122.8,597.9L123.7,598.0L124.6,598.0L125.4,598.1L126.3,598.1L127.2,598.2L128.1,598.2L129.0,598.2L129.9,598.3L130.7,598.3L131.6,598.4L132.5,598.4L133.4,598.4L134.3,598.5L135.2,598.5L136.0,598.5L136.9,598.5L137.8,598.6L138.7,598.6L139.6,598.6L140.5,598.7L141.4,598.7L142.2,598.7L143.1,598.7L144.0,598.8L144.9,598.8L145.8,598.8L146.7,598.8L147.5,598.8L148.4,598.8L149.3,598.9L149.3,599.8L148.4,599.8L147.5,599.8L146.7,599.8L145.8,599.8L144.9,599.8L144.0,599.8L143.1,599.8L142.2,599.8L141.4,599.8L140.5,599.8L139.6,599.8L138.7,599.8L137.8,599.8L136.9,599.8L136.0,599.8L135.2,599.8L134.3,599.8L133.4,599.8L132.5,599.8L131.6,599.8L130.7,599.8L129.9,599.8L129.0,599.8L128.1,599.8L127.2,599.8L126.3,599.8L125.4,599.8L124.6,599.8L123.7,599.8L122.8,599.8L121.9,599.8L121.0,599.8L120.1,599.8L119.3,599.7L118.4,599.7L117.5,599.6L116.6,599.5L115.7,599.5L114.8,599.4L113.9,599.3L113.1,599.2L112.2,599.1L111.3,599.0L110.4,598.9L109.5,598.8L108.6,598.6L107.8,598.4L106.9,598.3L106.0,598.1L105.1,597.9L104.2,597.7L103.3,597.5L102.5,597.2L101.6,597.0L100.7,596.8L99.8,596.5L98.9,596.2L98.0,595.9L97.1,595.6L96.3,595.2L95.4,594.8L94.5,594.5L93.6,594.1L92.7,593.6L91.8,593.1L91.0,592.6L90.1,592.1L89.2,591.5L88.3,591.0L87.4,590.4L86.5,589.8L85.7,589.2L84.8,588.5L83.9,587.9L83.0,587.2L82.1,586.5L81.2,585.7L80.4,585.0L79.5,584.2L78.6,583.4L77.7,582.5L76.8,581.6L75.9,580.6L75.0,579.7L74.2,578.6L73.3,577.6L72.4,576.4L71.5,575.2L70.6,573.9L69.7,572.5L68.9,571.1L68.0,569.8L67.1,568.6L66.2,567.4L65.3,566.2L64.4,565.1L63.6,563.9L62.7,562.6L61.8,561.3L60.9,559.9L60.0,558.4L59.1,557.0L58.2,555.7L57.4,554.4L56.5,553.2L55.6,552.1L54.7,551.1L53.8,550.2L52.9,549.3L52.1,548.4L51.2,547.6L50.3,546.9L49.4,546.2L48.5,545.6L47.6,545.0L46.8,544.5L45.9,543.9L45.0,543.5L44.1,543.0L43.2,542.6Z" fill="#8fd89d" fill-opacity="0.9" stroke="none"/>
<path d="M42.8,571.3L43.8,568.1L44.8,566.5L45.9,566.8L47.1,567.4L48.3,568.1L49.4,568.8L50.5,569.3L51.6,569.9L52.7,570.4L53.8,570.9L54.9,571.4L56.0,572.0L57.1,572.6L58.3,573.3L59.4,574.0L60.5,574.8L61.6,575.6L62.7,576.4L63.8,577.2L64.9,578.0L66.0,578.7L67.1,579.3L68.2,580.0L69.3,580.6L70.4,581.3L71.5,581.9L72.6,582.6L73.7,583.2L74.8,583.9L75.9,584.6L77.0,585.3L78.1,585.9L79.2,586.6L80.3,587.2L81.4,587.8L82.5,588.4L83.6,588.9L84.7,589.5L85.8,590.0L86.9,590.6L88.0,591.1L89.2,591.7L90.3,592.2L91.4,592.8L92.5,593.3L93.6,593.8L94.7,594.3L95.8,594.7L96.9,595.1L98.0,595.4L99.1,595.7L100.2,596.0L101.3,596.3L102.4,596.6L103.5,596.8L104.6,597.0L105.7,597.3L106.8,597.5L107.9,597.7L108.9,597.9L110.0,598.1L111.1,598.3L112.2,598.4L113.3,598.5L114.4,598.6L115.4,598.7L116.5,598.8L117.6,598.9L118.7,599.0L119.8,599.0L120.9,599.1L121.9,599.1L123.0,599.2L124.1,599.2L125.2,599.3L126.3,599.3L127.3,599.4L128.4,599.4L129.5,599.4L130.6,599.5L131.7,599.5L132.8,599.5L133.9,599.5L135.0,599.6L136.1,599.6L137.2,599.6L138.3,599.7L139.4,599.7L140.5,599.7L141.6,599.7L142.7,599.7L143.8,599.8L144.9,599.8L146.0,599.8L147.1,599.8L148.2,599.8L149.3,599.8" fill="none" stroke="#b0b0b0" stroke-width="0.9" stroke-linejoin="round"/>
<path d="M43.5,545.7L44.7,547.1L45.9,548.4L47.1,549.7L48.2,551.0L49.4,552.4L50.5,553.6L51.6,554.8L52.7,556.0L53.8,557.2L54.9,558.4L56.0,559.6L57.1,560.8L58.3,562.0L59.4,563.2L60.5,564.5L61.6,565.7L62.7,566.9L63.8,568.1L64.9,569.3L66.0,570.7L67.2,572.0L68.3,573.3L69.5,574.7L70.7,576.0L71.8,577.2L72.9,578.3L74.0,579.4L75.1,580.4L76.2,581.4L77.3,582.4L78.5,583.5L79.7,584.5L81.0,585.5L82.2,586.5L83.4,587.3L84.6,588.1L85.7,588.8L86.9,589.5L88.1,590.2L89.2,590.9L90.4,591.5L91.5,592.0L92.7,592.6L93.8,593.0L94.9,593.5L95.9,593.9L97.0,594.4L98.1,594.8L99.2,595.2L100.2,595.5L101.3,595.9L102.4,596.2L103.5,596.5L104.5,596.8L105.6,597.0L106.7,597.3L107.8,597.6L108.9,597.8L110.0,598.0L111.1,598.2L112.1,598.4L113.2,598.5L114.3,598.6L115.4,598.7L116.5,598.8L117.6,598.9L118.7,599.0L119.7,599.0L120.8,599.1L121.9,599.1L123.0,599.2L124.1,599.2L125.2,599.3L126.3,599.3L127.3,599.4L128.4,599.4L129.5,599.4L130.6,599.5L131.7,599.5L132.8,599.5L133.9,599.5L135.0,599.6L136.1,599.6L137.2,599.6L138.3,599.7L139.4,599.7L140.5,599.7L141.6,599.7L142.7,599.7L143.8,599.8L144.9,599.8L146.0,599.8L147.1,599.8L148.2,599.8L149.3,599.8" fill="none" stroke="#cf1032" stroke-width="1.5" stroke-linejoin="round"/>
<path d="M43.2,541.1L44.5,541.6L45.7,542.1L46.9,542.7L48.2,543.4L49.4,544.2L50.5,544.9L51.6,545.8L52.7,546.7L53.8,547.7L54.9,548.8L56.0,549.9L57.1,551.1L58.3,552.5L59.4,554.0L60.5,555.7L61.6,557.5L62.7,559.2L63.8,561.0L64.9,562.6L66.0,564.2L67.2,565.7L68.3,567.2L69.5,568.8L70.7,570.5L71.8,572.3L73.0,574.1L74.1,575.7L75.4,577.3L76.6,578.7L77.9,580.1L79.1,581.4L80.3,582.6L81.4,583.6L82.5,584.6L83.6,585.5L84.7,586.4L85.8,587.2L86.9,588.0L88.0,588.8L89.2,589.6L90.3,590.3L91.4,591.0L92.5,591.7L93.6,592.3L94.7,592.9L95.8,593.4L96.9,593.9L98.0,594.4L99.1,594.8L100.2,595.2L101.3,595.6L102.4,595.9L103.5,596.2L104.6,596.5L105.7,596.7L106.8,597.0L107.9,597.2L108.9,597.4L110.0,597.6L111.1,597.8L112.2,598.0L113.3,598.1L114.4,598.3L115.4,598.4L116.5,598.5L117.6,598.6L118.7,598.6L119.8,598.7L120.9,598.8L121.9,598.9L123.0,598.9L124.1,599.0L125.2,599.1L126.3,599.1L127.3,599.2L128.4,599.2L129.5,599.3L130.6,599.3L131.7,599.3L132.8,599.4L133.9,599.4L135.0,599.5L136.1,599.5L137.2,599.5L138.3,599.6L139.4,599.6L140.5,599.6L141.6,599.7L142.7,599.7L143.8,599.7L144.9,599.7L146.0,599.8L147.1,599.8L148.2,599.8L149.3,599.8" fill="none" stroke="#1f9e3a" stroke-width="1.3" stroke-dasharray="3 1.5 1.2 1.5" stroke-linejoin="round"/>
<rect x="39.49" y="569.95" width="2.8" height="2.8" fill="#b6b6bc"/>
<rect x="42.59" y="569.95" width="2.8" height="2.8" fill="#b6b6bc"/>
<rect x="46.93" y="571.49" width="2.8" height="2.8" fill="#b6b6bc"/>
<rect x="55.50" y="576.10" width="2.8" height="2.8" fill="#b6b6bc"/>
<rect x="65.80" y="588.63" width="2.8" height="2.8" fill="#b6b6bc"/>
<rect x="70.74" y="588.63" width="2.8" height="2.8" fill="#b6b6bc"/>
<rect x="76.17" y="591.71" width="2.8" height="2.8" fill="#b6b6bc"/>
<rect x="81.60" y="594.32" width="2.8" height="2.8" fill="#b6b6bc"/>
<circle cx="42.90" cy="535.67" r="1.35" fill="#2aa83f" stroke="#000" stroke-width="0.9"/>
<circle cx="48.33" cy="539.05" r="1.35" fill="#2aa83f" stroke="#000" stroke-width="0.9"/>
<circle cx="44.21" cy="545.20" r="1.35" fill="#2aa83f" stroke="#000" stroke-width="0.9"/>
<circle cx="57.15" cy="551.12" r="1.35" fill="#2aa83f" stroke="#000" stroke-width="0.9"/>
<circle cx="67.48" cy="567.66" r="1.35" fill="#2aa83f" stroke="#000" stroke-width="0.9"/>
<circle cx="71.82" cy="577.73" r="1.35" fill="#2aa83f" stroke="#000" stroke-width="0.9"/>
<circle cx="77.25" cy="578.50" r="1.35" fill="#2aa83f" stroke="#000" stroke-width="0.9"/>
<circle cx="83.07" cy="583.11" r="1.35" fill="#2aa83f" stroke="#000" stroke-width="0.9"/>
<path d="M37.60,522.00V600.90H152.90" fill="none" stroke="#222" stroke-width="1.25"/>
<path d="M34.80,599.80H37.6" stroke="#222" stroke-width="1"/>
<text x="32.20" y="603.10" font-size="9" fill="#3d3d3d" text-anchor="end" textLength="15.60" lengthAdjust="spacingAndGlyphs">0.00</text>
<path d="M34.80,580.57H37.6" stroke="#222" stroke-width="1"/>
<text x="32.20" y="583.87" font-size="9" fill="#3d3d3d" text-anchor="end" textLength="15.60" lengthAdjust="spacingAndGlyphs">0.25</text>
<path d="M34.80,561.35H37.6" stroke="#222" stroke-width="1"/>
<text x="32.20" y="564.65" font-size="9" fill="#3d3d3d" text-anchor="end" textLength="15.60" lengthAdjust="spacingAndGlyphs">0.50</text>
<path d="M34.80,542.12H37.6" stroke="#222" stroke-width="1"/>
<text x="32.20" y="545.42" font-size="9" fill="#3d3d3d" text-anchor="end" textLength="15.60" lengthAdjust="spacingAndGlyphs">0.75</text>
<path d="M34.80,522.90H37.6" stroke="#222" stroke-width="1"/>
<text x="32.20" y="526.20" font-size="9" fill="#3d3d3d" text-anchor="end" textLength="15.60" lengthAdjust="spacingAndGlyphs">1.00</text>
<path d="M43.50,600.90V603.70" stroke="#222" stroke-width="1"/>
<text x="44.10" y="613.30" font-size="9" fill="#3d3d3d" text-anchor="middle" textLength="5.00" lengthAdjust="spacingAndGlyphs">0</text>
<path d="M78.77,600.90V603.70" stroke="#222" stroke-width="1"/>
<text x="79.37" y="613.30" font-size="9" fill="#3d3d3d" text-anchor="middle" textLength="17.60" lengthAdjust="spacingAndGlyphs">1000</text>
<path d="M114.04,600.90V603.70" stroke="#222" stroke-width="1"/>
<text x="114.64" y="613.30" font-size="9" fill="#3d3d3d" text-anchor="middle" textLength="17.60" lengthAdjust="spacingAndGlyphs">2000</text>
<path d="M149.31,600.90V603.70" stroke="#222" stroke-width="1"/>
<text x="149.91" y="613.30" font-size="9" fill="#3d3d3d" text-anchor="middle" textLength="17.60" lengthAdjust="spacingAndGlyphs">3000</text>
<text x="95.10" y="623.50" font-size="9.8" fill="#3d3d3d" text-anchor="middle" textLength="37.50" lengthAdjust="spacingAndGlyphs">Time [days]</text>
<text x="0" y="0" font-size="10.4" fill="#3d3d3d" text-anchor="middle" textLength="16.5" lengthAdjust="spacingAndGlyphs" transform="translate(14.00,562.50) rotate(-90)">Ratio</text>
<text x="96.00" y="517.90" font-size="8.2" fill="#333" text-anchor="middle" textLength="40.20" lengthAdjust="spacingAndGlyphs">Patient #47</text>
<rect x="165.80" y="528.40" width="102.00" height="70.10" fill="#fff" stroke="#222" stroke-width="1.1"/>
<text x="184.00" y="536.80" font-size="8.2" fill="#111" font-style="italic" stroke="#111" stroke-width="0.15" textLength="14.8" lengthAdjust="spacingAndGlyphs">MPL</text>
<text x="199.10" y="533.80" font-size="3.6" fill="#222" textLength="3.0" lengthAdjust="spacingAndGlyphs">mut</text>
<path d="M184.60,538.40H202.00" stroke="#222" stroke-width="1"/>
<text x="183.80" y="546.00" font-size="8.0" fill="#111" textLength="25.50" lengthAdjust="spacingAndGlyphs" stroke="#111" stroke-width="0.15">- Data -</text>
<text x="183.80" y="553.50" font-size="8.0" fill="#111" textLength="81.20" lengthAdjust="spacingAndGlyphs" stroke="#111" stroke-width="0.15">Exp. het progenitors CF</text>
<text x="183.80" y="561.30" font-size="8.0" fill="#111" textLength="75.40" lengthAdjust="spacingAndGlyphs" stroke="#111" stroke-width="0.15">Exp. mature cells VAF</text>
<text x="183.80" y="569.10" font-size="8.0" fill="#111" textLength="30.50" lengthAdjust="spacingAndGlyphs" stroke="#111" stroke-width="0.15">- Model -</text>
<text x="183.80" y="577.80" font-size="8.0" fill="#111" textLength="40.40" lengthAdjust="spacingAndGlyphs" stroke="#111" stroke-width="0.15">Het HSC CF</text>
<text x="183.80" y="585.30" font-size="8.0" fill="#111" textLength="64.60" lengthAdjust="spacingAndGlyphs" stroke="#111" stroke-width="0.15">Het progenitors CF</text>
<text x="183.80" y="593.30" font-size="8.0" fill="#111" textLength="58.80" lengthAdjust="spacingAndGlyphs" stroke="#111" stroke-width="0.15">Mature cells VAF</text>
<circle cx="175.00" cy="551.80" r="1.5" fill="#2aa83f" stroke="#000" stroke-width="1.0"/>
<rect x="173.35" y="557.55" width="3.3" height="3.3" fill="#b9b9b9"/>
<path d="M168.00,575.70H180.80" stroke="#cf1032" stroke-width="1.3"/>
<path d="M168.00,583.50H180.80" stroke="#1f9e3a" stroke-width="1.3" stroke-dasharray="3 1.5 1.2 1.5"/>
<path d="M168.00,590.50H180.80" stroke="#929292" stroke-width="1.0" stroke-dasharray="2.5 1.5"/>
<rect x="0" y="0" width="520" height="1.1" fill="#000"/>
<rect x="0" y="0" width="1.2" height="633" fill="#000"/>
<rect x="518.75" y="0" width="1.25" height="633" fill="#000"/>
<rect x="0" y="631.65" width="520" height="1.35" fill="#000"/>
</svg>
</body></html>
